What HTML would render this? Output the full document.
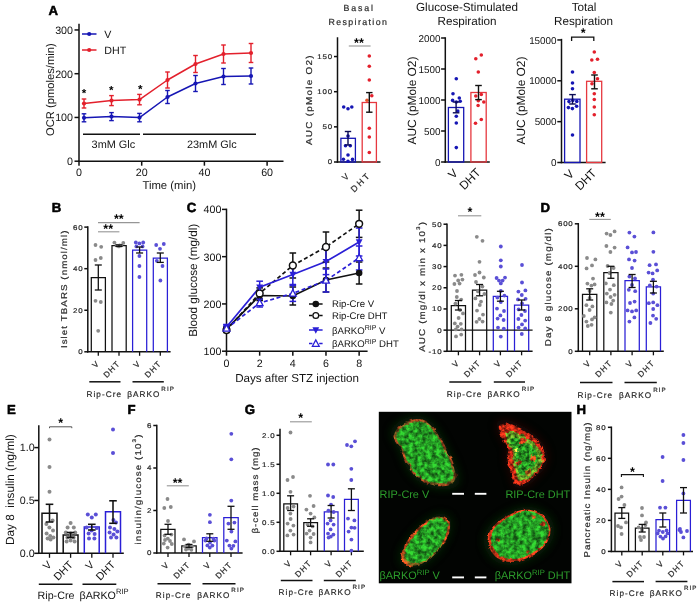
<!DOCTYPE html>
<html lang="en"><head><meta charset="utf-8"><title>Figure</title>
<style>html,body{margin:0;padding:0;background:#fff}body{width:700px;height:604px;overflow:hidden}svg{display:block}</style></head>
<body>
<svg width="700" height="604" viewBox="0 0 700 604" font-family='"Liberation Sans", Arial, sans-serif' text-rendering="geometricPrecision">
<defs><filter id="mot1" x="-15%" y="-15%" width="130%" height="130%" color-interpolation-filters="sRGB"><feTurbulence type="fractalNoise" baseFrequency="0.22" numOctaves="3" seed="3" result="n"/><feColorMatrix in="n" type="matrix" values="2.1 0 0 0 -0.5  2.1 0 0 0 -0.5  2.1 0 0 0 -0.5  0 0 0 0 1" result="g"/><feDisplacementMap in="SourceGraphic" in2="n" scale="3.2" xChannelSelector="G" yChannelSelector="B" result="d"/><feComposite in="d" in2="g" operator="arithmetic" k1="0.85" k2="0.48" k3="0" k4="0" result="m"/><feGaussianBlur in="m" stdDeviation="0.75"/></filter><filter id="mot2" x="-15%" y="-15%" width="130%" height="130%" color-interpolation-filters="sRGB"><feTurbulence type="fractalNoise" baseFrequency="0.27" numOctaves="3" seed="11" result="n"/><feColorMatrix in="n" type="matrix" values="2.1 0 0 0 -0.5  2.1 0 0 0 -0.5  2.1 0 0 0 -0.5  0 0 0 0 1" result="g"/><feDisplacementMap in="SourceGraphic" in2="n" scale="4.2" xChannelSelector="G" yChannelSelector="B" result="d"/><feComposite in="d" in2="g" operator="arithmetic" k1="0.9" k2="0.4" k3="0" k4="0" result="m"/><feGaussianBlur in="m" stdDeviation="0.75"/></filter><filter id="mot3" x="-15%" y="-15%" width="130%" height="130%" color-interpolation-filters="sRGB"><feTurbulence type="fractalNoise" baseFrequency="0.22" numOctaves="3" seed="5" result="n"/><feColorMatrix in="n" type="matrix" values="2.1 0 0 0 -0.5  2.1 0 0 0 -0.5  2.1 0 0 0 -0.5  0 0 0 0 1" result="g"/><feDisplacementMap in="SourceGraphic" in2="n" scale="3" xChannelSelector="G" yChannelSelector="B" result="d"/><feComposite in="d" in2="g" operator="arithmetic" k1="0.85" k2="0.48" k3="0" k4="0" result="m"/><feGaussianBlur in="m" stdDeviation="0.75"/></filter><filter id="mot4" x="-15%" y="-15%" width="130%" height="130%" color-interpolation-filters="sRGB"><feTurbulence type="fractalNoise" baseFrequency="0.22" numOctaves="3" seed="8" result="n"/><feColorMatrix in="n" type="matrix" values="2.1 0 0 0 -0.5  2.1 0 0 0 -0.5  2.1 0 0 0 -0.5  0 0 0 0 1" result="g"/><feDisplacementMap in="SourceGraphic" in2="n" scale="3.2" xChannelSelector="G" yChannelSelector="B" result="d"/><feComposite in="d" in2="g" operator="arithmetic" k1="0.85" k2="0.48" k3="0" k4="0" result="m"/><feGaussianBlur in="m" stdDeviation="0.75"/></filter><filter id="glow" x="-30%" y="-30%" width="160%" height="160%"><feGaussianBlur stdDeviation="4"/></filter><filter id="soft" x="-5%" y="-20%" width="110%" height="140%"><feGaussianBlur stdDeviation="0.3"/></filter></defs>
<rect width="700" height="604" fill="#fff"/>
<text x="48.5" y="15.4" font-size="13.2" fill="#000" font-weight="bold" stroke="#000" stroke-width="0.55" stroke-linejoin="round">A</text>
<line x1="79" y1="23.75" x2="79" y2="161.95" stroke="#111" stroke-width="1.5"/>
<line x1="74.5" y1="161.2" x2="79" y2="161.2" stroke="#111" stroke-width="1.5"/>
<text x="73" y="165.05" font-size="10.7" fill="#141414" text-anchor="end">0</text>
<line x1="74.5" y1="117.45" x2="79" y2="117.45" stroke="#111" stroke-width="1.5"/>
<text x="73" y="121.3" font-size="10.7" fill="#141414" text-anchor="end">100</text>
<line x1="74.5" y1="73.7" x2="79" y2="73.7" stroke="#111" stroke-width="1.5"/>
<text x="73" y="77.55" font-size="10.7" fill="#141414" text-anchor="end">200</text>
<line x1="74.5" y1="29.95" x2="79" y2="29.95" stroke="#111" stroke-width="1.5"/>
<text x="73" y="33.8" font-size="10.7" fill="#141414" text-anchor="end">300</text>
<line x1="78.25" y1="161.2" x2="283.5" y2="161.2" stroke="#111" stroke-width="1.5"/>
<line x1="79" y1="161.2" x2="79" y2="165.7" stroke="#111" stroke-width="1.5"/>
<text x="79" y="175.8" font-size="10.7" fill="#141414" text-anchor="middle">0</text>
<line x1="141.7" y1="161.2" x2="141.7" y2="165.7" stroke="#111" stroke-width="1.5"/>
<text x="141.7" y="175.8" font-size="10.7" fill="#141414" text-anchor="middle">20</text>
<line x1="204.4" y1="161.2" x2="204.4" y2="165.7" stroke="#111" stroke-width="1.5"/>
<text x="204.4" y="175.8" font-size="10.7" fill="#141414" text-anchor="middle">40</text>
<line x1="267.1" y1="161.2" x2="267.1" y2="165.7" stroke="#111" stroke-width="1.5"/>
<text x="267.1" y="175.8" font-size="10.7" fill="#141414" text-anchor="middle">60</text>
<text x="169.2" y="189.2" font-size="11.3" fill="#141414" text-anchor="middle">Time (min)</text>
<text transform="translate(53.8 89.6) rotate(-90)" font-size="11.2" fill="#141414" text-anchor="middle">OCR (pmoles/min)</text>
<polyline points="84,117.8 111.5,116.6 139.5,117.6 167.5,97 195.5,83.5 223.5,76.5 251,76" fill="none" stroke="#1616b4" stroke-width="1.5" stroke-linejoin="round"/>
<line x1="84" y1="113.8" x2="84" y2="121.8" stroke="#1616b4" stroke-width="1.4"/>
<line x1="81.7" y1="113.8" x2="86.3" y2="113.8" stroke="#1616b4" stroke-width="1.4"/>
<line x1="81.7" y1="121.8" x2="86.3" y2="121.8" stroke="#1616b4" stroke-width="1.4"/>
<circle cx="84" cy="117.8" r="2.1" fill="#1616b4"/>
<line x1="111.5" y1="112.6" x2="111.5" y2="120.6" stroke="#1616b4" stroke-width="1.4"/>
<line x1="109.2" y1="112.6" x2="113.8" y2="112.6" stroke="#1616b4" stroke-width="1.4"/>
<line x1="109.2" y1="120.6" x2="113.8" y2="120.6" stroke="#1616b4" stroke-width="1.4"/>
<circle cx="111.5" cy="116.6" r="2.1" fill="#1616b4"/>
<line x1="139.5" y1="113.4" x2="139.5" y2="121.8" stroke="#1616b4" stroke-width="1.4"/>
<line x1="137.2" y1="113.4" x2="141.8" y2="113.4" stroke="#1616b4" stroke-width="1.4"/>
<line x1="137.2" y1="121.8" x2="141.8" y2="121.8" stroke="#1616b4" stroke-width="1.4"/>
<circle cx="139.5" cy="117.6" r="2.1" fill="#1616b4"/>
<line x1="167.5" y1="90.5" x2="167.5" y2="103.5" stroke="#1616b4" stroke-width="1.4"/>
<line x1="165.2" y1="90.5" x2="169.8" y2="90.5" stroke="#1616b4" stroke-width="1.4"/>
<line x1="165.2" y1="103.5" x2="169.8" y2="103.5" stroke="#1616b4" stroke-width="1.4"/>
<circle cx="167.5" cy="97" r="2.1" fill="#1616b4"/>
<line x1="195.5" y1="75.5" x2="195.5" y2="91.5" stroke="#1616b4" stroke-width="1.4"/>
<line x1="193.2" y1="75.5" x2="197.8" y2="75.5" stroke="#1616b4" stroke-width="1.4"/>
<line x1="193.2" y1="91.5" x2="197.8" y2="91.5" stroke="#1616b4" stroke-width="1.4"/>
<circle cx="195.5" cy="83.5" r="2.1" fill="#1616b4"/>
<line x1="223.5" y1="68.5" x2="223.5" y2="84.5" stroke="#1616b4" stroke-width="1.4"/>
<line x1="221.2" y1="68.5" x2="225.8" y2="68.5" stroke="#1616b4" stroke-width="1.4"/>
<line x1="221.2" y1="84.5" x2="225.8" y2="84.5" stroke="#1616b4" stroke-width="1.4"/>
<circle cx="223.5" cy="76.5" r="2.1" fill="#1616b4"/>
<line x1="251" y1="68" x2="251" y2="84" stroke="#1616b4" stroke-width="1.4"/>
<line x1="248.7" y1="68" x2="253.3" y2="68" stroke="#1616b4" stroke-width="1.4"/>
<line x1="248.7" y1="84" x2="253.3" y2="84" stroke="#1616b4" stroke-width="1.4"/>
<circle cx="251" cy="76" r="2.1" fill="#1616b4"/>
<polyline points="84,103.5 111.5,100.6 139.5,99.6 167.5,80 195.5,64 223.5,54 251,53" fill="none" stroke="#e3202c" stroke-width="1.5" stroke-linejoin="round"/>
<line x1="84" y1="99" x2="84" y2="108" stroke="#e3202c" stroke-width="1.4"/>
<line x1="81.7" y1="99" x2="86.3" y2="99" stroke="#e3202c" stroke-width="1.4"/>
<line x1="81.7" y1="108" x2="86.3" y2="108" stroke="#e3202c" stroke-width="1.4"/>
<circle cx="84" cy="103.5" r="2.1" fill="#e3202c"/>
<line x1="111.5" y1="95.6" x2="111.5" y2="105.6" stroke="#e3202c" stroke-width="1.4"/>
<line x1="109.2" y1="95.6" x2="113.8" y2="95.6" stroke="#e3202c" stroke-width="1.4"/>
<line x1="109.2" y1="105.6" x2="113.8" y2="105.6" stroke="#e3202c" stroke-width="1.4"/>
<circle cx="111.5" cy="100.6" r="2.1" fill="#e3202c"/>
<line x1="139.5" y1="94.4" x2="139.5" y2="104.8" stroke="#e3202c" stroke-width="1.4"/>
<line x1="137.2" y1="94.4" x2="141.8" y2="94.4" stroke="#e3202c" stroke-width="1.4"/>
<line x1="137.2" y1="104.8" x2="141.8" y2="104.8" stroke="#e3202c" stroke-width="1.4"/>
<circle cx="139.5" cy="99.6" r="2.1" fill="#e3202c"/>
<line x1="167.5" y1="72" x2="167.5" y2="88" stroke="#e3202c" stroke-width="1.4"/>
<line x1="165.2" y1="72" x2="169.8" y2="72" stroke="#e3202c" stroke-width="1.4"/>
<line x1="165.2" y1="88" x2="169.8" y2="88" stroke="#e3202c" stroke-width="1.4"/>
<circle cx="167.5" cy="80" r="2.1" fill="#e3202c"/>
<line x1="195.5" y1="55.5" x2="195.5" y2="72.5" stroke="#e3202c" stroke-width="1.4"/>
<line x1="193.2" y1="55.5" x2="197.8" y2="55.5" stroke="#e3202c" stroke-width="1.4"/>
<line x1="193.2" y1="72.5" x2="197.8" y2="72.5" stroke="#e3202c" stroke-width="1.4"/>
<circle cx="195.5" cy="64" r="2.1" fill="#e3202c"/>
<line x1="223.5" y1="45" x2="223.5" y2="63" stroke="#e3202c" stroke-width="1.4"/>
<line x1="221.2" y1="45" x2="225.8" y2="45" stroke="#e3202c" stroke-width="1.4"/>
<line x1="221.2" y1="63" x2="225.8" y2="63" stroke="#e3202c" stroke-width="1.4"/>
<circle cx="223.5" cy="54" r="2.1" fill="#e3202c"/>
<line x1="251" y1="43.5" x2="251" y2="62.5" stroke="#e3202c" stroke-width="1.4"/>
<line x1="248.7" y1="43.5" x2="253.3" y2="43.5" stroke="#e3202c" stroke-width="1.4"/>
<line x1="248.7" y1="62.5" x2="253.3" y2="62.5" stroke="#e3202c" stroke-width="1.4"/>
<circle cx="251" cy="53" r="2.1" fill="#e3202c"/>
<line x1="82" y1="34" x2="96.5" y2="34" stroke="#1616b4" stroke-width="1.5"/>
<circle cx="89.2" cy="34" r="2.1" fill="#1616b4"/>
<text x="104.3" y="37.9" font-size="10.7" fill="#141414">V</text>
<line x1="82" y1="50" x2="96.5" y2="50" stroke="#e3202c" stroke-width="1.5"/>
<circle cx="89.2" cy="50" r="2.1" fill="#e3202c"/>
<text x="104.3" y="53.9" font-size="10.7" fill="#141414">DHT</text>
<text x="84" y="96.53" font-size="11.6" fill="#000" text-anchor="middle" font-weight="bold">*</text>
<text x="111.3" y="93.93" font-size="11.6" fill="#000" text-anchor="middle" font-weight="bold">*</text>
<text x="140.3" y="92.93" font-size="11.6" fill="#000" text-anchor="middle" font-weight="bold">*</text>
<line x1="83" y1="134.2" x2="140" y2="134.2" stroke="#111" stroke-width="1.5"/>
<line x1="143" y1="134.2" x2="256" y2="134.2" stroke="#111" stroke-width="1.5"/>
<text x="113.4" y="147.6" font-size="10.9" fill="#141414" text-anchor="middle">3mM Glc</text>
<text x="211.8" y="147.6" font-size="10.9" fill="#141414" text-anchor="middle">23mM Glc</text>
<line x1="337.5" y1="37.25" x2="337.5" y2="162.75" stroke="#111" stroke-width="1.5"/>
<line x1="334" y1="162" x2="337.5" y2="162" stroke="#111" stroke-width="1.5"/>
<text transform="translate(333 164.48) scale(1.15 1)" font-size="6.9" fill="#2a2a2a" text-anchor="end" letter-spacing="0.7" stroke="#2a2a2a" stroke-width="0.2">0</text>
<line x1="334" y1="126.85" x2="337.5" y2="126.85" stroke="#111" stroke-width="1.5"/>
<text transform="translate(333 129.33) scale(1.15 1)" font-size="6.9" fill="#2a2a2a" text-anchor="end" letter-spacing="0.7" stroke="#2a2a2a" stroke-width="0.2">50</text>
<line x1="334" y1="91.7" x2="337.5" y2="91.7" stroke="#111" stroke-width="1.5"/>
<text transform="translate(333 94.18) scale(1.15 1)" font-size="6.9" fill="#2a2a2a" text-anchor="end" letter-spacing="0.7" stroke="#2a2a2a" stroke-width="0.2">100</text>
<line x1="334" y1="56.55" x2="337.5" y2="56.55" stroke="#111" stroke-width="1.5"/>
<text transform="translate(333 59.03) scale(1.15 1)" font-size="6.9" fill="#2a2a2a" text-anchor="end" letter-spacing="0.7" stroke="#2a2a2a" stroke-width="0.2">150</text>
<line x1="336.75" y1="162" x2="380.5" y2="162" stroke="#111" stroke-width="1.5"/>
<text transform="translate(359.12 10.9)" font-size="8.8" fill="#2a2a2a" text-anchor="middle" letter-spacing="1.84" stroke="#2a2a2a" stroke-width="0.2">Basal</text>
<text transform="translate(358.39 24.9)" font-size="8.8" fill="#2a2a2a" text-anchor="middle" letter-spacing="1.37" stroke="#2a2a2a" stroke-width="0.2">Respiration</text>
<text transform="translate(312.1 99.56) rotate(-90) scale(1.15 1)" font-size="8.6" fill="#2a2a2a" text-anchor="middle" letter-spacing="1.11" stroke="#2a2a2a" stroke-width="0.2">AUC (pMole O2)</text>
<rect x="340.9" y="138.3" width="14.5" height="23.7" fill="none" stroke="#1616b4" stroke-width="1.3"/>
<rect x="362.2" y="102.5" width="14.2" height="59.5" fill="none" stroke="#e6383f" stroke-width="1.3"/>
<circle cx="343.7" cy="107" r="1.8" fill="#1616b4"/>
<circle cx="348" cy="108.8" r="1.8" fill="#1616b4"/>
<circle cx="351.8" cy="107" r="1.8" fill="#1616b4"/>
<circle cx="345.5" cy="145.8" r="1.8" fill="#1616b4"/>
<circle cx="350.3" cy="145.8" r="1.8" fill="#1616b4"/>
<circle cx="348" cy="155" r="1.8" fill="#1616b4"/>
<circle cx="343.4" cy="159.3" r="1.8" fill="#1616b4"/>
<circle cx="348" cy="161.3" r="1.8" fill="#1616b4"/>
<circle cx="352.5" cy="159.4" r="1.8" fill="#1616b4"/>
<circle cx="348" cy="136" r="1.8" fill="#1616b4"/>
<circle cx="369.3" cy="56" r="1.8" fill="#e3202c"/>
<circle cx="369.3" cy="66.2" r="1.8" fill="#e3202c"/>
<circle cx="369.3" cy="80" r="1.8" fill="#e3202c"/>
<circle cx="371.8" cy="95.8" r="1.8" fill="#e3202c"/>
<circle cx="369.3" cy="128.2" r="1.8" fill="#e3202c"/>
<circle cx="369.3" cy="137" r="1.8" fill="#e3202c"/>
<circle cx="369.3" cy="152.5" r="1.8" fill="#e3202c"/>
<circle cx="367" cy="100.2" r="1.8" fill="#e8552c"/>
<line x1="348" y1="131.5" x2="348" y2="145" stroke="#0b0b55" stroke-width="1.4"/>
<line x1="344.8" y1="131.5" x2="351.2" y2="131.5" stroke="#0b0b55" stroke-width="1.4"/>
<line x1="344.8" y1="145" x2="351.2" y2="145" stroke="#0b0b55" stroke-width="1.4"/>
<line x1="369.3" y1="92.6" x2="369.3" y2="112.2" stroke="#111" stroke-width="1.4"/>
<line x1="366.1" y1="92.6" x2="372.5" y2="92.6" stroke="#111" stroke-width="1.4"/>
<line x1="366.1" y1="112.2" x2="372.5" y2="112.2" stroke="#111" stroke-width="1.4"/>
<text x="358.9" y="46.83" font-size="12.6" fill="#000" text-anchor="middle" font-weight="bold">**</text>
<line x1="348.8" y1="46" x2="370.6" y2="46" stroke="#969696" stroke-width="1.1"/>
<text transform="translate(350.6 176) rotate(-45)" font-size="8.6" fill="#2a2a2a" text-anchor="end" letter-spacing="1.4" stroke="#2a2a2a" stroke-width="0.2">V</text>
<text transform="translate(371.6 175.4) rotate(-45)" font-size="8.6" fill="#2a2a2a" text-anchor="end" letter-spacing="2.3" stroke="#2a2a2a" stroke-width="0.2">DHT</text>
<line x1="445.3" y1="37.25" x2="445.3" y2="162.75" stroke="#111" stroke-width="1.5"/>
<line x1="441.1" y1="162" x2="445.3" y2="162" stroke="#111" stroke-width="1.5"/>
<text x="440.4" y="165.56" font-size="9.9" fill="#141414" text-anchor="end">0</text>
<line x1="441.1" y1="131" x2="445.3" y2="131" stroke="#111" stroke-width="1.5"/>
<text x="440.4" y="134.56" font-size="9.9" fill="#141414" text-anchor="end">500</text>
<line x1="441.1" y1="100" x2="445.3" y2="100" stroke="#111" stroke-width="1.5"/>
<text x="440.4" y="103.56" font-size="9.9" fill="#141414" text-anchor="end">1000</text>
<line x1="441.1" y1="69" x2="445.3" y2="69" stroke="#111" stroke-width="1.5"/>
<text x="440.4" y="72.56" font-size="9.9" fill="#141414" text-anchor="end">1500</text>
<line x1="441.1" y1="38" x2="445.3" y2="38" stroke="#111" stroke-width="1.5"/>
<text x="440.4" y="41.56" font-size="9.9" fill="#141414" text-anchor="end">2000</text>
<line x1="444.55" y1="162" x2="489.8" y2="162" stroke="#111" stroke-width="1.5"/>
<text x="467" y="11" font-size="11.7" fill="#141414" text-anchor="middle">Glucose-Stimulated</text>
<text x="467" y="24.6" font-size="11.7" fill="#141414" text-anchor="middle">Respiration</text>
<text transform="translate(415.5 100.5) rotate(-90)" font-size="11.9" fill="#141414" text-anchor="middle">AUC (pMole O2)</text>
<rect x="448.4" y="107.5" width="15.3" height="54.5" fill="none" stroke="#1616b4" stroke-width="1.3"/>
<rect x="470.9" y="92.5" width="15.3" height="69.5" fill="none" stroke="#e6383f" stroke-width="1.3"/>
<circle cx="456.3" cy="78.8" r="1.8" fill="#1616b4"/>
<circle cx="453" cy="93.8" r="1.8" fill="#1616b4"/>
<circle cx="459.3" cy="98" r="1.8" fill="#1616b4"/>
<circle cx="452.6" cy="100.4" r="1.8" fill="#1616b4"/>
<circle cx="456.3" cy="102" r="1.8" fill="#1616b4"/>
<circle cx="457.8" cy="111" r="1.8" fill="#1616b4"/>
<circle cx="456.3" cy="116.3" r="1.8" fill="#1616b4"/>
<circle cx="456.3" cy="123" r="1.8" fill="#1616b4"/>
<circle cx="456.3" cy="147.6" r="1.8" fill="#1616b4"/>
<circle cx="460.2" cy="101.2" r="1.8" fill="#1616b4"/>
<circle cx="475.8" cy="58.8" r="1.8" fill="#e3202c"/>
<circle cx="481.3" cy="55" r="1.8" fill="#e3202c"/>
<circle cx="478.3" cy="72" r="1.8" fill="#e3202c"/>
<circle cx="481.3" cy="94.5" r="1.8" fill="#e3202c"/>
<circle cx="475.8" cy="96" r="1.8" fill="#e3202c"/>
<circle cx="478.1" cy="105.5" r="1.8" fill="#e3202c"/>
<circle cx="483.8" cy="102" r="1.8" fill="#e3202c"/>
<circle cx="475.5" cy="123.2" r="1.8" fill="#e3202c"/>
<circle cx="481.3" cy="119.5" r="1.8" fill="#e3202c"/>
<circle cx="478.3" cy="100.8" r="1.8" fill="#e3202c"/>
<line x1="456.1" y1="102" x2="456.1" y2="112.8" stroke="#0b0b55" stroke-width="1.4"/>
<line x1="452.8" y1="102" x2="459.4" y2="102" stroke="#0b0b55" stroke-width="1.4"/>
<line x1="452.8" y1="112.8" x2="459.4" y2="112.8" stroke="#0b0b55" stroke-width="1.4"/>
<line x1="478.5" y1="85.5" x2="478.5" y2="99.6" stroke="#111" stroke-width="1.4"/>
<line x1="475.2" y1="85.5" x2="481.8" y2="85.5" stroke="#111" stroke-width="1.4"/>
<line x1="475.2" y1="99.6" x2="481.8" y2="99.6" stroke="#111" stroke-width="1.4"/>
<text transform="translate(458.6 174) rotate(-45)" font-size="11.9" fill="#141414" text-anchor="end">V</text>
<text transform="translate(481.5 173.2) rotate(-45)" font-size="11.9" fill="#141414" text-anchor="end">DHT</text>
<line x1="561.5" y1="38.85" x2="561.5" y2="163.25" stroke="#111" stroke-width="1.5"/>
<line x1="557.3" y1="162.5" x2="561.5" y2="162.5" stroke="#111" stroke-width="1.5"/>
<text x="556.6" y="166.06" font-size="9.9" fill="#141414" text-anchor="end">0</text>
<line x1="557.3" y1="121.65" x2="561.5" y2="121.65" stroke="#111" stroke-width="1.5"/>
<text x="556.6" y="125.21" font-size="9.9" fill="#141414" text-anchor="end">5000</text>
<line x1="557.3" y1="80.8" x2="561.5" y2="80.8" stroke="#111" stroke-width="1.5"/>
<text x="556.6" y="84.36" font-size="9.9" fill="#141414" text-anchor="end">10000</text>
<line x1="557.3" y1="39.95" x2="561.5" y2="39.95" stroke="#111" stroke-width="1.5"/>
<text x="556.6" y="43.51" font-size="9.9" fill="#141414" text-anchor="end">15000</text>
<line x1="560.75" y1="162.5" x2="605.6" y2="162.5" stroke="#111" stroke-width="1.5"/>
<text x="584" y="11" font-size="11.7" fill="#141414" text-anchor="middle">Total</text>
<text x="583.5" y="24.6" font-size="11.7" fill="#141414" text-anchor="middle">Respiration</text>
<text transform="translate(524.8 100.5) rotate(-90)" font-size="11.9" fill="#141414" text-anchor="middle">AUC (pMole O2)</text>
<rect x="564.6" y="99.2" width="15.4" height="63.3" fill="none" stroke="#1616b4" stroke-width="1.3"/>
<rect x="586.6" y="81.3" width="15.1" height="81.2" fill="none" stroke="#e6383f" stroke-width="1.3"/>
<circle cx="572.5" cy="72" r="1.8" fill="#1616b4"/>
<circle cx="572.5" cy="83" r="1.8" fill="#1616b4"/>
<circle cx="572.5" cy="88.8" r="1.8" fill="#1616b4"/>
<circle cx="569" cy="101.6" r="1.8" fill="#1616b4"/>
<circle cx="572.8" cy="100.4" r="1.8" fill="#1616b4"/>
<circle cx="576.8" cy="101.4" r="1.8" fill="#1616b4"/>
<circle cx="568.4" cy="107.6" r="1.8" fill="#1616b4"/>
<circle cx="572.4" cy="108.6" r="1.8" fill="#1616b4"/>
<circle cx="576.6" cy="106.2" r="1.8" fill="#1616b4"/>
<circle cx="572.5" cy="135" r="1.8" fill="#1616b4"/>
<circle cx="594.3" cy="52" r="1.8" fill="#e3202c"/>
<circle cx="591.8" cy="60" r="1.8" fill="#e3202c"/>
<circle cx="597.5" cy="59.3" r="1.8" fill="#e3202c"/>
<circle cx="594.3" cy="72.5" r="1.8" fill="#e3202c"/>
<circle cx="597.5" cy="78.8" r="1.8" fill="#e3202c"/>
<circle cx="592" cy="83.8" r="1.8" fill="#e3202c"/>
<circle cx="594.3" cy="93.8" r="1.8" fill="#e3202c"/>
<circle cx="594.3" cy="99.5" r="1.8" fill="#e3202c"/>
<circle cx="594.3" cy="107" r="1.8" fill="#e3202c"/>
<circle cx="594.3" cy="114.8" r="1.8" fill="#e3202c"/>
<line x1="572.5" y1="94.6" x2="572.5" y2="104" stroke="#0b0b55" stroke-width="1.4"/>
<line x1="569.2" y1="94.6" x2="575.8" y2="94.6" stroke="#0b0b55" stroke-width="1.4"/>
<line x1="569.2" y1="104" x2="575.8" y2="104" stroke="#0b0b55" stroke-width="1.4"/>
<line x1="594.5" y1="75" x2="594.5" y2="88.8" stroke="#111" stroke-width="1.4"/>
<line x1="591.2" y1="75" x2="597.8" y2="75" stroke="#111" stroke-width="1.4"/>
<line x1="591.2" y1="88.8" x2="597.8" y2="88.8" stroke="#111" stroke-width="1.4"/>
<text x="583.2" y="37.33" font-size="12.6" fill="#000" text-anchor="middle" font-weight="bold">*</text>
<polyline points="571.6,41 571.6,37.2 593.8,37.2 593.8,41" fill="none" stroke="#111" stroke-width="1.3"/>
<text transform="translate(574.8 174.6) rotate(-45)" font-size="11.9" fill="#141414" text-anchor="end">V</text>
<text transform="translate(597.2 173.8) rotate(-45)" font-size="11.9" fill="#141414" text-anchor="end">DHT</text>
<text x="51.8" y="212.3" font-size="13.2" fill="#000" font-weight="bold" stroke="#000" stroke-width="0.55" stroke-linejoin="round">B</text>
<line x1="87.8" y1="226.35" x2="87.8" y2="352.55" stroke="#111" stroke-width="1.5"/>
<line x1="84.3" y1="351.8" x2="87.8" y2="351.8" stroke="#111" stroke-width="1.5"/>
<text transform="translate(83.41 354.28) scale(1.15 1)" font-size="6.9" fill="#2a2a2a" text-anchor="end" letter-spacing="0.7" stroke="#2a2a2a" stroke-width="0.2">0</text>
<line x1="84.3" y1="310.24" x2="87.8" y2="310.24" stroke="#111" stroke-width="1.5"/>
<text transform="translate(83.41 312.72) scale(1.15 1)" font-size="6.9" fill="#2a2a2a" text-anchor="end" letter-spacing="0.7" stroke="#2a2a2a" stroke-width="0.2">20</text>
<line x1="84.3" y1="268.68" x2="87.8" y2="268.68" stroke="#111" stroke-width="1.5"/>
<text transform="translate(83.41 271.16) scale(1.15 1)" font-size="6.9" fill="#2a2a2a" text-anchor="end" letter-spacing="0.7" stroke="#2a2a2a" stroke-width="0.2">40</text>
<line x1="84.3" y1="227.12" x2="87.8" y2="227.12" stroke="#111" stroke-width="1.5"/>
<text transform="translate(83.41 229.6) scale(1.15 1)" font-size="6.9" fill="#2a2a2a" text-anchor="end" letter-spacing="0.7" stroke="#2a2a2a" stroke-width="0.2">60</text>
<line x1="87.05" y1="351.8" x2="170.6" y2="351.8" stroke="#111" stroke-width="1.5"/>
<line x1="98.3" y1="351.8" x2="98.3" y2="355.8" stroke="#111" stroke-width="1.3"/>
<line x1="119" y1="351.8" x2="119" y2="355.8" stroke="#111" stroke-width="1.3"/>
<line x1="139.6" y1="351.8" x2="139.6" y2="355.8" stroke="#111" stroke-width="1.3"/>
<line x1="160.3" y1="351.8" x2="160.3" y2="355.8" stroke="#111" stroke-width="1.3"/>
<path d="M91.3,351.8 V277.5 H105.4 V351.8" fill="none" stroke="#111" stroke-width="1.25"/>
<path d="M112,351.8 V245.6 H126.2 V351.8" fill="none" stroke="#111" stroke-width="1.25"/>
<path d="M132.6,351.8 V250 H146.7 V351.8" fill="none" stroke="#2a1fd6" stroke-width="1.25"/>
<path d="M153.3,351.8 V258 H167.4 V351.8" fill="none" stroke="#2a1fd6" stroke-width="1.25"/>
<text transform="translate(67.2 288.77) rotate(-90) scale(1.15 1)" font-size="8.5" fill="#2a2a2a" text-anchor="middle" letter-spacing="0.92" stroke="#2a2a2a" stroke-width="0.2">Islet TBARS (nmol/ml)</text>
<circle cx="95.5" cy="245" r="1.9" fill="#8a8a8a"/>
<circle cx="101.2" cy="246.8" r="1.9" fill="#8a8a8a"/>
<circle cx="95.5" cy="260" r="1.9" fill="#8a8a8a"/>
<circle cx="100.8" cy="258" r="1.9" fill="#8a8a8a"/>
<circle cx="95.5" cy="300.8" r="1.9" fill="#8a8a8a"/>
<circle cx="100.8" cy="302" r="1.9" fill="#8a8a8a"/>
<circle cx="98.2" cy="330.8" r="1.9" fill="#8a8a8a"/>
<circle cx="114.4" cy="242.6" r="1.9" fill="#8a8a8a"/>
<circle cx="116.7" cy="245.6" r="1.9" fill="#8a8a8a"/>
<circle cx="118.8" cy="246.4" r="1.9" fill="#8a8a8a"/>
<circle cx="121.2" cy="245.6" r="1.9" fill="#8a8a8a"/>
<circle cx="123.3" cy="242.9" r="1.9" fill="#8a8a8a"/>
<circle cx="119.6" cy="245.4" r="1.9" fill="#8a8a8a"/>
<circle cx="135.8" cy="242.5" r="1.9" fill="#5a4fd6"/>
<circle cx="139.4" cy="243.4" r="1.9" fill="#5a4fd6"/>
<circle cx="143.2" cy="242.5" r="1.9" fill="#5a4fd6"/>
<circle cx="136.4" cy="246.4" r="1.9" fill="#5a4fd6"/>
<circle cx="142.6" cy="246.4" r="1.9" fill="#5a4fd6"/>
<circle cx="139.4" cy="256" r="1.9" fill="#5a4fd6"/>
<circle cx="139.4" cy="266" r="1.9" fill="#5a4fd6"/>
<circle cx="139.4" cy="277" r="1.9" fill="#5a4fd6"/>
<circle cx="156.2" cy="245" r="1.9" fill="#5a4fd6"/>
<circle cx="163.8" cy="244" r="1.9" fill="#5a4fd6"/>
<circle cx="160" cy="248.8" r="1.9" fill="#5a4fd6"/>
<circle cx="156.8" cy="260.8" r="1.9" fill="#5a4fd6"/>
<circle cx="162.5" cy="266" r="1.9" fill="#5a4fd6"/>
<circle cx="160.4" cy="280.5" r="1.9" fill="#5a4fd6"/>
<line x1="98.3" y1="265" x2="98.3" y2="290" stroke="#111" stroke-width="1.3"/>
<line x1="94.8" y1="265" x2="101.8" y2="265" stroke="#111" stroke-width="1.3"/>
<line x1="94.8" y1="290" x2="101.8" y2="290" stroke="#111" stroke-width="1.3"/>
<line x1="119" y1="244.9" x2="119" y2="246.4" stroke="#111" stroke-width="1.2"/>
<line x1="115.5" y1="244.9" x2="122.5" y2="244.9" stroke="#111" stroke-width="1.2"/>
<line x1="115.5" y1="246.4" x2="122.5" y2="246.4" stroke="#111" stroke-width="1.2"/>
<line x1="139.6" y1="247" x2="139.6" y2="253" stroke="#111" stroke-width="1.3"/>
<line x1="136.1" y1="247" x2="143.1" y2="247" stroke="#111" stroke-width="1.3"/>
<line x1="136.1" y1="253" x2="143.1" y2="253" stroke="#111" stroke-width="1.3"/>
<line x1="160.3" y1="253" x2="160.3" y2="262.4" stroke="#111" stroke-width="1.3"/>
<line x1="156.8" y1="253" x2="163.8" y2="253" stroke="#111" stroke-width="1.3"/>
<line x1="156.8" y1="262.4" x2="163.8" y2="262.4" stroke="#111" stroke-width="1.3"/>
<text x="118.8" y="223.33" font-size="12.6" fill="#000" text-anchor="middle" font-weight="bold">**</text>
<line x1="98" y1="222.6" x2="139.6" y2="222.6" stroke="#969696" stroke-width="1.1"/>
<text x="108.2" y="232.53" font-size="12.6" fill="#000" text-anchor="middle" font-weight="bold">**</text>
<line x1="98" y1="231.8" x2="119.4" y2="231.8" stroke="#969696" stroke-width="1.1"/>
<text transform="translate(100.1 364) rotate(-45)" font-size="8.2" fill="#2a2a2a" text-anchor="end" letter-spacing="1.05" stroke="#2a2a2a" stroke-width="0.2">V</text>
<text transform="translate(120.8 364) rotate(-45)" font-size="8.2" fill="#2a2a2a" text-anchor="end" letter-spacing="1.05" stroke="#2a2a2a" stroke-width="0.2">DHT</text>
<text transform="translate(141.4 364) rotate(-45)" font-size="8.2" fill="#2a2a2a" text-anchor="end" letter-spacing="1.05" stroke="#2a2a2a" stroke-width="0.2">V</text>
<text transform="translate(162.1 364) rotate(-45)" font-size="8.2" fill="#2a2a2a" text-anchor="end" letter-spacing="1.05" stroke="#2a2a2a" stroke-width="0.2">DHT</text>
<line x1="89.3" y1="381.8" x2="120.5" y2="381.8" stroke="#111" stroke-width="1.5"/>
<line x1="132.5" y1="381.8" x2="163.8" y2="381.8" stroke="#111" stroke-width="1.5"/>
<text x="104.3" y="397.2" font-size="8.2" fill="#2a2a2a" text-anchor="middle" letter-spacing="1.05" stroke="#2a2a2a" stroke-width="0.2">Rip-Cre</text>
<text x="127.2" y="397.2" font-size="8.2" fill="#2a2a2a" letter-spacing="1.05" stroke="#2a2a2a" stroke-width="0.2">βARKO<tspan font-size="6.23" dx="1" dy="-6.07">RIP</tspan></text>
<text x="186.8" y="212" font-size="13.2" fill="#000" font-weight="bold" stroke="#000" stroke-width="0.55" stroke-linejoin="round">C</text>
<line x1="226.5" y1="208.65" x2="226.5" y2="351.95" stroke="#111" stroke-width="1.5"/>
<line x1="222" y1="351.2" x2="226.5" y2="351.2" stroke="#111" stroke-width="1.5"/>
<text x="221.4" y="355.05" font-size="10.7" fill="#141414" text-anchor="end">100</text>
<line x1="222" y1="303.93" x2="226.5" y2="303.93" stroke="#111" stroke-width="1.5"/>
<text x="221.4" y="307.78" font-size="10.7" fill="#141414" text-anchor="end">200</text>
<line x1="222" y1="256.66" x2="226.5" y2="256.66" stroke="#111" stroke-width="1.5"/>
<text x="221.4" y="260.51" font-size="10.7" fill="#141414" text-anchor="end">300</text>
<line x1="222" y1="209.39" x2="226.5" y2="209.39" stroke="#111" stroke-width="1.5"/>
<text x="221.4" y="213.24" font-size="10.7" fill="#141414" text-anchor="end">400</text>
<line x1="225.75" y1="351.2" x2="367.6" y2="351.2" stroke="#111" stroke-width="1.5"/>
<line x1="226.5" y1="351.2" x2="226.5" y2="355.7" stroke="#111" stroke-width="1.5"/>
<text x="226.5" y="366.8" font-size="10.7" fill="#141414" text-anchor="middle">0</text>
<line x1="259.66" y1="351.2" x2="259.66" y2="355.7" stroke="#111" stroke-width="1.5"/>
<text x="259.66" y="366.8" font-size="10.7" fill="#141414" text-anchor="middle">2</text>
<line x1="292.82" y1="351.2" x2="292.82" y2="355.7" stroke="#111" stroke-width="1.5"/>
<text x="292.82" y="366.8" font-size="10.7" fill="#141414" text-anchor="middle">4</text>
<line x1="325.98" y1="351.2" x2="325.98" y2="355.7" stroke="#111" stroke-width="1.5"/>
<text x="325.98" y="366.8" font-size="10.7" fill="#141414" text-anchor="middle">6</text>
<line x1="359.14" y1="351.2" x2="359.14" y2="355.7" stroke="#111" stroke-width="1.5"/>
<text x="359.14" y="366.8" font-size="10.7" fill="#141414" text-anchor="middle">8</text>
<text x="297" y="382.4" font-size="11.6" fill="#141414" text-anchor="middle">Days after STZ injection</text>
<text transform="translate(197.4 280.3) rotate(-90)" font-size="11.7" fill="#141414" text-anchor="middle">Blood glucose (mg/dl)</text>
<polyline points="226.5,329.2 259.66,295.5 292.82,296 325.98,280 359.14,273" fill="none" stroke="#111" stroke-width="1.7"/>
<polyline points="226.5,330 259.66,293.4 292.82,265.5 325.98,247 359.14,223.8" fill="none" stroke="#111" stroke-width="1.7" stroke-dasharray="4 2.6"/>
<polyline points="226.5,327 259.66,287.2 292.82,274.5 325.98,261.6 359.14,242" fill="none" stroke="#2a1fd6" stroke-width="1.7"/>
<polyline points="226.5,328.5 259.66,303 292.82,293.4 325.98,280.5 359.14,258" fill="none" stroke="#2a1fd6" stroke-width="1.7" stroke-dasharray="4 2.6"/>
<line x1="226.5" y1="326.7" x2="226.5" y2="331.7" stroke="#111" stroke-width="1.5"/>
<line x1="223.2" y1="326.7" x2="229.8" y2="326.7" stroke="#111" stroke-width="1.5"/>
<line x1="223.2" y1="331.7" x2="229.8" y2="331.7" stroke="#111" stroke-width="1.5"/>
<line x1="259.66" y1="290.5" x2="259.66" y2="300.5" stroke="#111" stroke-width="1.5"/>
<line x1="256.36" y1="290.5" x2="262.96" y2="290.5" stroke="#111" stroke-width="1.5"/>
<line x1="256.36" y1="300.5" x2="262.96" y2="300.5" stroke="#111" stroke-width="1.5"/>
<line x1="292.82" y1="287" x2="292.82" y2="305" stroke="#111" stroke-width="1.5"/>
<line x1="289.52" y1="287" x2="296.12" y2="287" stroke="#111" stroke-width="1.5"/>
<line x1="289.52" y1="305" x2="296.12" y2="305" stroke="#111" stroke-width="1.5"/>
<line x1="325.98" y1="268" x2="325.98" y2="292" stroke="#111" stroke-width="1.5"/>
<line x1="322.68" y1="268" x2="329.28" y2="268" stroke="#111" stroke-width="1.5"/>
<line x1="322.68" y1="292" x2="329.28" y2="292" stroke="#111" stroke-width="1.5"/>
<line x1="359.14" y1="262" x2="359.14" y2="284" stroke="#111" stroke-width="1.5"/>
<line x1="355.84" y1="262" x2="362.44" y2="262" stroke="#111" stroke-width="1.5"/>
<line x1="355.84" y1="284" x2="362.44" y2="284" stroke="#111" stroke-width="1.5"/>
<line x1="226.5" y1="327.5" x2="226.5" y2="332.5" stroke="#111" stroke-width="1.5"/>
<line x1="223.2" y1="327.5" x2="229.8" y2="327.5" stroke="#111" stroke-width="1.5"/>
<line x1="223.2" y1="332.5" x2="229.8" y2="332.5" stroke="#111" stroke-width="1.5"/>
<line x1="259.66" y1="287.9" x2="259.66" y2="298.9" stroke="#111" stroke-width="1.5"/>
<line x1="256.36" y1="287.9" x2="262.96" y2="287.9" stroke="#111" stroke-width="1.5"/>
<line x1="256.36" y1="298.9" x2="262.96" y2="298.9" stroke="#111" stroke-width="1.5"/>
<line x1="292.82" y1="253" x2="292.82" y2="278" stroke="#111" stroke-width="1.5"/>
<line x1="289.52" y1="253" x2="296.12" y2="253" stroke="#111" stroke-width="1.5"/>
<line x1="289.52" y1="278" x2="296.12" y2="278" stroke="#111" stroke-width="1.5"/>
<line x1="325.98" y1="232" x2="325.98" y2="262" stroke="#111" stroke-width="1.5"/>
<line x1="322.68" y1="232" x2="329.28" y2="232" stroke="#111" stroke-width="1.5"/>
<line x1="322.68" y1="262" x2="329.28" y2="262" stroke="#111" stroke-width="1.5"/>
<line x1="359.14" y1="210.2" x2="359.14" y2="237.4" stroke="#111" stroke-width="1.5"/>
<line x1="355.84" y1="210.2" x2="362.44" y2="210.2" stroke="#111" stroke-width="1.5"/>
<line x1="355.84" y1="237.4" x2="362.44" y2="237.4" stroke="#111" stroke-width="1.5"/>
<line x1="226.5" y1="324.5" x2="226.5" y2="329.5" stroke="#2a1fd6" stroke-width="1.5"/>
<line x1="223.2" y1="324.5" x2="229.8" y2="324.5" stroke="#2a1fd6" stroke-width="1.5"/>
<line x1="223.2" y1="329.5" x2="229.8" y2="329.5" stroke="#2a1fd6" stroke-width="1.5"/>
<line x1="259.66" y1="281.2" x2="259.66" y2="293.2" stroke="#2a1fd6" stroke-width="1.5"/>
<line x1="256.36" y1="281.2" x2="262.96" y2="281.2" stroke="#2a1fd6" stroke-width="1.5"/>
<line x1="256.36" y1="293.2" x2="262.96" y2="293.2" stroke="#2a1fd6" stroke-width="1.5"/>
<line x1="292.82" y1="264.5" x2="292.82" y2="284.5" stroke="#2a1fd6" stroke-width="1.5"/>
<line x1="289.52" y1="264.5" x2="296.12" y2="264.5" stroke="#2a1fd6" stroke-width="1.5"/>
<line x1="289.52" y1="284.5" x2="296.12" y2="284.5" stroke="#2a1fd6" stroke-width="1.5"/>
<line x1="325.98" y1="248.6" x2="325.98" y2="274.6" stroke="#2a1fd6" stroke-width="1.5"/>
<line x1="322.68" y1="248.6" x2="329.28" y2="248.6" stroke="#2a1fd6" stroke-width="1.5"/>
<line x1="322.68" y1="274.6" x2="329.28" y2="274.6" stroke="#2a1fd6" stroke-width="1.5"/>
<line x1="359.14" y1="228" x2="359.14" y2="256" stroke="#2a1fd6" stroke-width="1.5"/>
<line x1="355.84" y1="228" x2="362.44" y2="228" stroke="#2a1fd6" stroke-width="1.5"/>
<line x1="355.84" y1="256" x2="362.44" y2="256" stroke="#2a1fd6" stroke-width="1.5"/>
<line x1="226.5" y1="326" x2="226.5" y2="331" stroke="#2a1fd6" stroke-width="1.5"/>
<line x1="223.2" y1="326" x2="229.8" y2="326" stroke="#2a1fd6" stroke-width="1.5"/>
<line x1="223.2" y1="331" x2="229.8" y2="331" stroke="#2a1fd6" stroke-width="1.5"/>
<line x1="259.66" y1="299" x2="259.66" y2="307" stroke="#2a1fd6" stroke-width="1.5"/>
<line x1="256.36" y1="299" x2="262.96" y2="299" stroke="#2a1fd6" stroke-width="1.5"/>
<line x1="256.36" y1="307" x2="262.96" y2="307" stroke="#2a1fd6" stroke-width="1.5"/>
<line x1="292.82" y1="285.4" x2="292.82" y2="301.4" stroke="#2a1fd6" stroke-width="1.5"/>
<line x1="289.52" y1="285.4" x2="296.12" y2="285.4" stroke="#2a1fd6" stroke-width="1.5"/>
<line x1="289.52" y1="301.4" x2="296.12" y2="301.4" stroke="#2a1fd6" stroke-width="1.5"/>
<line x1="325.98" y1="269" x2="325.98" y2="292" stroke="#2a1fd6" stroke-width="1.5"/>
<line x1="322.68" y1="269" x2="329.28" y2="269" stroke="#2a1fd6" stroke-width="1.5"/>
<line x1="322.68" y1="292" x2="329.28" y2="292" stroke="#2a1fd6" stroke-width="1.5"/>
<line x1="359.14" y1="246" x2="359.14" y2="270" stroke="#2a1fd6" stroke-width="1.5"/>
<line x1="355.84" y1="246" x2="362.44" y2="246" stroke="#2a1fd6" stroke-width="1.5"/>
<line x1="355.84" y1="270" x2="362.44" y2="270" stroke="#2a1fd6" stroke-width="1.5"/>
<circle cx="226.5" cy="329.2" r="3.3" fill="#111"/>
<circle cx="259.66" cy="295.5" r="3.3" fill="#111"/>
<circle cx="292.82" cy="296" r="3.3" fill="#111"/>
<circle cx="325.98" cy="280" r="3.3" fill="#111"/>
<circle cx="359.14" cy="273" r="3.3" fill="#111"/>
<circle cx="226.5" cy="330" r="3.4" fill="#fff" stroke="#111" stroke-width="1.5"/>
<circle cx="259.66" cy="293.4" r="3.4" fill="#fff" stroke="#111" stroke-width="1.5"/>
<circle cx="292.82" cy="265.5" r="3.4" fill="#fff" stroke="#111" stroke-width="1.5"/>
<circle cx="325.98" cy="247" r="3.4" fill="#fff" stroke="#111" stroke-width="1.5"/>
<circle cx="359.14" cy="223.8" r="3.4" fill="#fff" stroke="#111" stroke-width="1.5"/>
<polygon points="223.1,324.32 229.9,324.32 226.5,330.75" fill="#2a1fd6"/>
<polygon points="256.26,284.52 263.06,284.52 259.66,290.95" fill="#2a1fd6"/>
<polygon points="289.42,271.82 296.22,271.82 292.82,278.25" fill="#2a1fd6"/>
<polygon points="322.58,258.92 329.38,258.92 325.98,265.35" fill="#2a1fd6"/>
<polygon points="355.74,239.32 362.54,239.32 359.14,245.75" fill="#2a1fd6"/>
<polygon points="223.1,331.18 229.9,331.18 226.5,324.75" fill="#fff" stroke="#2a1fd6" stroke-width="1.3" stroke-linejoin="miter"/>
<polygon points="256.26,305.68 263.06,305.68 259.66,299.25" fill="#fff" stroke="#2a1fd6" stroke-width="1.3" stroke-linejoin="miter"/>
<polygon points="289.42,296.08 296.22,296.08 292.82,289.65" fill="#fff" stroke="#2a1fd6" stroke-width="1.3" stroke-linejoin="miter"/>
<polygon points="322.58,283.18 329.38,283.18 325.98,276.75" fill="#fff" stroke="#2a1fd6" stroke-width="1.3" stroke-linejoin="miter"/>
<polygon points="355.74,260.68 362.54,260.68 359.14,254.25" fill="#fff" stroke="#2a1fd6" stroke-width="1.3" stroke-linejoin="miter"/>
<line x1="309" y1="304" x2="322.6" y2="304" stroke="#111" stroke-width="1.5"/>
<circle cx="315.8" cy="304" r="3.3" fill="#111"/>
<text x="332" y="307.4" font-size="9.6" fill="#141414">Rip-Cre V</text>
<line x1="309" y1="315.5" x2="322.6" y2="315.5" stroke="#111" stroke-width="1.5" stroke-dasharray="3.4 6.8"/>
<circle cx="315.8" cy="315.5" r="2.9" fill="#fff" stroke="#111" stroke-width="1.3"/>
<text x="332" y="318.9" font-size="9.6" fill="#141414">Rip-Cre DHT</text>
<line x1="309" y1="330" x2="322.6" y2="330" stroke="#2a1fd6" stroke-width="1.5"/>
<polygon points="312.4,327.32 319.2,327.32 315.8,333.75" fill="#2a1fd6"/>
<text x="332" y="333.6" font-size="9.6" fill="#141414">βARKO<tspan font-size="7" dy="-3.3">RIP</tspan><tspan dy="3.3"> V</tspan></text>
<line x1="309" y1="343.6" x2="322.6" y2="343.6" stroke="#2a1fd6" stroke-width="1.5" stroke-dasharray="3.4 6.8"/>
<polygon points="312.4,346.28 319.2,346.28 315.8,339.85" fill="#fff" stroke="#2a1fd6" stroke-width="1.3" stroke-linejoin="miter"/>
<text x="332" y="347.2" font-size="9.6" fill="#141414">βARKO<tspan font-size="7" dy="-3.3">RIP</tspan><tspan dy="3.3"> DHT</tspan></text>
<line x1="447" y1="223.45" x2="447" y2="352.05" stroke="#111" stroke-width="1.5"/>
<line x1="443.5" y1="351.3" x2="447" y2="351.3" stroke="#111" stroke-width="1.5"/>
<text transform="translate(442.41 353.78) scale(1.15 1)" font-size="6.9" fill="#2a2a2a" text-anchor="end" letter-spacing="0.7" stroke="#2a2a2a" stroke-width="0.2">-10</text>
<line x1="443.5" y1="330.12" x2="447" y2="330.12" stroke="#111" stroke-width="1.5"/>
<text transform="translate(442.41 332.6) scale(1.15 1)" font-size="6.9" fill="#2a2a2a" text-anchor="end" letter-spacing="0.7" stroke="#2a2a2a" stroke-width="0.2">0</text>
<line x1="443.5" y1="308.94" x2="447" y2="308.94" stroke="#111" stroke-width="1.5"/>
<text transform="translate(442.41 311.42) scale(1.15 1)" font-size="6.9" fill="#2a2a2a" text-anchor="end" letter-spacing="0.7" stroke="#2a2a2a" stroke-width="0.2">10</text>
<line x1="443.5" y1="287.76" x2="447" y2="287.76" stroke="#111" stroke-width="1.5"/>
<text transform="translate(442.41 290.24) scale(1.15 1)" font-size="6.9" fill="#2a2a2a" text-anchor="end" letter-spacing="0.7" stroke="#2a2a2a" stroke-width="0.2">20</text>
<line x1="443.5" y1="266.58" x2="447" y2="266.58" stroke="#111" stroke-width="1.5"/>
<text transform="translate(442.41 269.06) scale(1.15 1)" font-size="6.9" fill="#2a2a2a" text-anchor="end" letter-spacing="0.7" stroke="#2a2a2a" stroke-width="0.2">30</text>
<line x1="443.5" y1="245.4" x2="447" y2="245.4" stroke="#111" stroke-width="1.5"/>
<text transform="translate(442.41 247.88) scale(1.15 1)" font-size="6.9" fill="#2a2a2a" text-anchor="end" letter-spacing="0.7" stroke="#2a2a2a" stroke-width="0.2">40</text>
<line x1="443.5" y1="224.22" x2="447" y2="224.22" stroke="#111" stroke-width="1.5"/>
<text transform="translate(442.41 226.7) scale(1.15 1)" font-size="6.9" fill="#2a2a2a" text-anchor="end" letter-spacing="0.7" stroke="#2a2a2a" stroke-width="0.2">50</text>
<line x1="446.25" y1="351.3" x2="532.6" y2="351.3" stroke="#111" stroke-width="1.5"/>
<line x1="458.4" y1="351.3" x2="458.4" y2="355.3" stroke="#111" stroke-width="1.3"/>
<line x1="479.6" y1="351.3" x2="479.6" y2="355.3" stroke="#111" stroke-width="1.3"/>
<line x1="500.4" y1="351.3" x2="500.4" y2="355.3" stroke="#111" stroke-width="1.3"/>
<line x1="521.6" y1="351.3" x2="521.6" y2="355.3" stroke="#111" stroke-width="1.3"/>
<path d="M451.3,351.3 V305.5 H465.5 V351.3" fill="none" stroke="#111" stroke-width="1.25"/>
<path d="M472.5,351.3 V290 H486.7 V351.3" fill="none" stroke="#111" stroke-width="1.25"/>
<path d="M493.3,351.3 V296.3 H507.5 V351.3" fill="none" stroke="#2a1fd6" stroke-width="1.25"/>
<path d="M514.5,351.3 V305 H528.7 V351.3" fill="none" stroke="#2a1fd6" stroke-width="1.25"/>
<line x1="447" y1="330.12" x2="532.6" y2="330.12" stroke="#111" stroke-width="1.4"/>
<text transform="translate(425.1 286.33) rotate(-90) scale(1.15 1)" font-size="8.5" fill="#2a2a2a" text-anchor="middle" letter-spacing="1" stroke="#2a2a2a" stroke-width="0.2">AUC (mg/dl x min x 10<tspan font-size="5.44" dy="-5.27">3</tspan><tspan dy="5.27">)</tspan></text>
<circle cx="455" cy="275.6" r="1.9" fill="#8a8a8a"/>
<circle cx="461.4" cy="274.8" r="1.9" fill="#8a8a8a"/>
<circle cx="458.2" cy="280.5" r="1.9" fill="#8a8a8a"/>
<circle cx="454.4" cy="284" r="1.9" fill="#8a8a8a"/>
<circle cx="459.6" cy="283.6" r="1.9" fill="#8a8a8a"/>
<circle cx="462.4" cy="279.6" r="1.9" fill="#8a8a8a"/>
<circle cx="456.8" cy="297" r="1.9" fill="#8a8a8a"/>
<circle cx="461.2" cy="299.6" r="1.9" fill="#8a8a8a"/>
<circle cx="455.4" cy="303.6" r="1.9" fill="#8a8a8a"/>
<circle cx="460" cy="310" r="1.9" fill="#8a8a8a"/>
<circle cx="463" cy="313.4" r="1.9" fill="#8a8a8a"/>
<circle cx="454.8" cy="323.4" r="1.9" fill="#8a8a8a"/>
<circle cx="460.8" cy="323.8" r="1.9" fill="#8a8a8a"/>
<circle cx="457.6" cy="326.6" r="1.9" fill="#8a8a8a"/>
<circle cx="455.8" cy="329.4" r="1.9" fill="#8a8a8a"/>
<circle cx="461.6" cy="329.4" r="1.9" fill="#8a8a8a"/>
<circle cx="456" cy="336.4" r="1.9" fill="#8a8a8a"/>
<circle cx="461.2" cy="334.6" r="1.9" fill="#8a8a8a"/>
<circle cx="458.6" cy="318" r="1.9" fill="#8a8a8a"/>
<circle cx="457" cy="291" r="1.9" fill="#8a8a8a"/>
<circle cx="476.8" cy="236.8" r="1.9" fill="#8a8a8a"/>
<circle cx="482.5" cy="240.8" r="1.9" fill="#8a8a8a"/>
<circle cx="479.5" cy="261.8" r="1.9" fill="#8a8a8a"/>
<circle cx="479.5" cy="272.5" r="1.9" fill="#8a8a8a"/>
<circle cx="475" cy="275" r="1.9" fill="#8a8a8a"/>
<circle cx="483.8" cy="277.5" r="1.9" fill="#8a8a8a"/>
<circle cx="476" cy="282" r="1.9" fill="#8a8a8a"/>
<circle cx="482.4" cy="286.6" r="1.9" fill="#8a8a8a"/>
<circle cx="478" cy="291.4" r="1.9" fill="#8a8a8a"/>
<circle cx="484.4" cy="294" r="1.9" fill="#8a8a8a"/>
<circle cx="475.4" cy="298.4" r="1.9" fill="#8a8a8a"/>
<circle cx="481" cy="301.6" r="1.9" fill="#8a8a8a"/>
<circle cx="477" cy="310.6" r="1.9" fill="#8a8a8a"/>
<circle cx="483" cy="314.6" r="1.9" fill="#8a8a8a"/>
<circle cx="479.4" cy="319" r="1.9" fill="#8a8a8a"/>
<circle cx="476.6" cy="321.8" r="1.9" fill="#8a8a8a"/>
<circle cx="482.6" cy="321.6" r="1.9" fill="#8a8a8a"/>
<circle cx="479.8" cy="305" r="1.9" fill="#8a8a8a"/>
<circle cx="500.8" cy="246.5" r="1.9" fill="#5a4fd6"/>
<circle cx="500.8" cy="260.3" r="1.9" fill="#5a4fd6"/>
<circle cx="500.8" cy="266.5" r="1.9" fill="#5a4fd6"/>
<circle cx="496.6" cy="278" r="1.9" fill="#5a4fd6"/>
<circle cx="499" cy="280.6" r="1.9" fill="#5a4fd6"/>
<circle cx="502.6" cy="280.6" r="1.9" fill="#5a4fd6"/>
<circle cx="505" cy="277.6" r="1.9" fill="#5a4fd6"/>
<circle cx="500.8" cy="283.4" r="1.9" fill="#5a4fd6"/>
<circle cx="497.4" cy="297.6" r="1.9" fill="#5a4fd6"/>
<circle cx="504.4" cy="295.6" r="1.9" fill="#5a4fd6"/>
<circle cx="500.8" cy="302" r="1.9" fill="#5a4fd6"/>
<circle cx="497" cy="308.6" r="1.9" fill="#5a4fd6"/>
<circle cx="504" cy="311" r="1.9" fill="#5a4fd6"/>
<circle cx="500.4" cy="315.4" r="1.9" fill="#5a4fd6"/>
<circle cx="497.6" cy="318.6" r="1.9" fill="#5a4fd6"/>
<circle cx="503.6" cy="320" r="1.9" fill="#5a4fd6"/>
<circle cx="498" cy="327.6" r="1.9" fill="#5a4fd6"/>
<circle cx="503.8" cy="328.6" r="1.9" fill="#5a4fd6"/>
<circle cx="500.8" cy="336.6" r="1.9" fill="#5a4fd6"/>
<circle cx="500.8" cy="291" r="1.9" fill="#5a4fd6"/>
<circle cx="522" cy="265" r="1.9" fill="#5a4fd6"/>
<circle cx="522" cy="282.5" r="1.9" fill="#5a4fd6"/>
<circle cx="518.4" cy="291.6" r="1.9" fill="#5a4fd6"/>
<circle cx="525.4" cy="290.4" r="1.9" fill="#5a4fd6"/>
<circle cx="521.8" cy="295" r="1.9" fill="#5a4fd6"/>
<circle cx="518" cy="299.4" r="1.9" fill="#5a4fd6"/>
<circle cx="525.6" cy="298.8" r="1.9" fill="#5a4fd6"/>
<circle cx="522" cy="303.4" r="1.9" fill="#5a4fd6"/>
<circle cx="518.6" cy="309.4" r="1.9" fill="#5a4fd6"/>
<circle cx="525" cy="311" r="1.9" fill="#5a4fd6"/>
<circle cx="521.4" cy="315" r="1.9" fill="#5a4fd6"/>
<circle cx="518.4" cy="319" r="1.9" fill="#5a4fd6"/>
<circle cx="525.2" cy="320.6" r="1.9" fill="#5a4fd6"/>
<circle cx="522" cy="324.4" r="1.9" fill="#5a4fd6"/>
<circle cx="518.6" cy="327.6" r="1.9" fill="#5a4fd6"/>
<circle cx="525.2" cy="328.4" r="1.9" fill="#5a4fd6"/>
<circle cx="521.8" cy="334" r="1.9" fill="#5a4fd6"/>
<line x1="458.4" y1="300.5" x2="458.4" y2="310" stroke="#111" stroke-width="1.3"/>
<line x1="454.9" y1="300.5" x2="461.9" y2="300.5" stroke="#111" stroke-width="1.3"/>
<line x1="454.9" y1="310" x2="461.9" y2="310" stroke="#111" stroke-width="1.3"/>
<line x1="479.6" y1="284.5" x2="479.6" y2="295.8" stroke="#111" stroke-width="1.3"/>
<line x1="476.1" y1="284.5" x2="483.1" y2="284.5" stroke="#111" stroke-width="1.3"/>
<line x1="476.1" y1="295.8" x2="483.1" y2="295.8" stroke="#111" stroke-width="1.3"/>
<line x1="500.4" y1="291.3" x2="500.4" y2="301.2" stroke="#111" stroke-width="1.3"/>
<line x1="496.9" y1="291.3" x2="503.9" y2="291.3" stroke="#111" stroke-width="1.3"/>
<line x1="496.9" y1="301.2" x2="503.9" y2="301.2" stroke="#111" stroke-width="1.3"/>
<line x1="521.6" y1="300" x2="521.6" y2="310" stroke="#111" stroke-width="1.3"/>
<line x1="518.1" y1="300" x2="525.1" y2="300" stroke="#111" stroke-width="1.3"/>
<line x1="518.1" y1="310" x2="525.1" y2="310" stroke="#111" stroke-width="1.3"/>
<text x="470" y="216.33" font-size="12.6" fill="#000" text-anchor="middle" font-weight="bold">*</text>
<line x1="458" y1="215.8" x2="481.3" y2="215.8" stroke="#969696" stroke-width="1.1"/>
<text transform="translate(460.2 363.5) rotate(-45)" font-size="8.2" fill="#2a2a2a" text-anchor="end" letter-spacing="1.05" stroke="#2a2a2a" stroke-width="0.2">V</text>
<text transform="translate(481.4 363.5) rotate(-45)" font-size="8.2" fill="#2a2a2a" text-anchor="end" letter-spacing="1.05" stroke="#2a2a2a" stroke-width="0.2">DHT</text>
<text transform="translate(502.2 363.5) rotate(-45)" font-size="8.2" fill="#2a2a2a" text-anchor="end" letter-spacing="1.05" stroke="#2a2a2a" stroke-width="0.2">V</text>
<text transform="translate(523.4 363.5) rotate(-45)" font-size="8.2" fill="#2a2a2a" text-anchor="end" letter-spacing="1.05" stroke="#2a2a2a" stroke-width="0.2">DHT</text>
<line x1="449.3" y1="382" x2="481.3" y2="382" stroke="#111" stroke-width="1.5"/>
<line x1="493.8" y1="382" x2="525" y2="382" stroke="#111" stroke-width="1.5"/>
<text x="464.6" y="397.4" font-size="8.2" fill="#2a2a2a" text-anchor="middle" letter-spacing="1.05" stroke="#2a2a2a" stroke-width="0.2">Rip-Cre</text>
<text x="487.6" y="397.4" font-size="8.2" fill="#2a2a2a" letter-spacing="1.05" stroke="#2a2a2a" stroke-width="0.2">βARKO<tspan font-size="6.23" dx="1" dy="-6.07">RIP</tspan></text>
<text x="540.6" y="212.3" font-size="13.2" fill="#000" font-weight="bold" stroke="#000" stroke-width="0.55" stroke-linejoin="round">D</text>
<line x1="578.3" y1="223.05" x2="578.3" y2="352.05" stroke="#111" stroke-width="1.5"/>
<line x1="574.8" y1="351.3" x2="578.3" y2="351.3" stroke="#111" stroke-width="1.5"/>
<text transform="translate(573.6 353.78) scale(1.15 1)" font-size="6.9" fill="#2a2a2a" text-anchor="end" letter-spacing="0.7" stroke="#2a2a2a" stroke-width="0.2">0</text>
<line x1="574.8" y1="308.8" x2="578.3" y2="308.8" stroke="#111" stroke-width="1.5"/>
<text transform="translate(573.6 311.28) scale(1.15 1)" font-size="6.9" fill="#2a2a2a" text-anchor="end" letter-spacing="0.7" stroke="#2a2a2a" stroke-width="0.2">200</text>
<line x1="574.8" y1="266.3" x2="578.3" y2="266.3" stroke="#111" stroke-width="1.5"/>
<text transform="translate(573.6 268.78) scale(1.15 1)" font-size="6.9" fill="#2a2a2a" text-anchor="end" letter-spacing="0.7" stroke="#2a2a2a" stroke-width="0.2">400</text>
<line x1="574.8" y1="223.8" x2="578.3" y2="223.8" stroke="#111" stroke-width="1.5"/>
<text transform="translate(573.6 226.28) scale(1.15 1)" font-size="6.9" fill="#2a2a2a" text-anchor="end" letter-spacing="0.7" stroke="#2a2a2a" stroke-width="0.2">600</text>
<line x1="577.55" y1="351.3" x2="663.8" y2="351.3" stroke="#111" stroke-width="1.5"/>
<line x1="589.7" y1="351.3" x2="589.7" y2="355.3" stroke="#111" stroke-width="1.3"/>
<line x1="610.9" y1="351.3" x2="610.9" y2="355.3" stroke="#111" stroke-width="1.3"/>
<line x1="632.1" y1="351.3" x2="632.1" y2="355.3" stroke="#111" stroke-width="1.3"/>
<line x1="653.4" y1="351.3" x2="653.4" y2="355.3" stroke="#111" stroke-width="1.3"/>
<path d="M582.5,351.3 V294.3 H596.8 V351.3" fill="none" stroke="#111" stroke-width="1.25"/>
<path d="M603.8,351.3 V272.5 H618 V351.3" fill="none" stroke="#111" stroke-width="1.25"/>
<path d="M625,351.3 V280.5 H639.3 V351.3" fill="none" stroke="#2a1fd6" stroke-width="1.25"/>
<path d="M646.3,351.3 V286.8 H660.5 V351.3" fill="none" stroke="#2a1fd6" stroke-width="1.25"/>
<text transform="translate(551.3 286.72) rotate(-90) scale(1.15 1)" font-size="8.5" fill="#2a2a2a" text-anchor="middle" letter-spacing="1" stroke="#2a2a2a" stroke-width="0.2">Day 8 glucose (mg/dl)</text>
<circle cx="587" cy="258" r="1.9" fill="#8a8a8a"/>
<circle cx="595.4" cy="259.4" r="1.9" fill="#8a8a8a"/>
<circle cx="592" cy="265.4" r="1.9" fill="#8a8a8a"/>
<circle cx="586.6" cy="268.4" r="1.9" fill="#8a8a8a"/>
<circle cx="593" cy="278.6" r="1.9" fill="#8a8a8a"/>
<circle cx="587.4" cy="283.6" r="1.9" fill="#8a8a8a"/>
<circle cx="591.4" cy="285.6" r="1.9" fill="#8a8a8a"/>
<circle cx="594.6" cy="284.4" r="1.9" fill="#8a8a8a"/>
<circle cx="589.6" cy="291" r="1.9" fill="#8a8a8a"/>
<circle cx="586.4" cy="305.2" r="1.9" fill="#8a8a8a"/>
<circle cx="592.4" cy="306.4" r="1.9" fill="#8a8a8a"/>
<circle cx="589.6" cy="310" r="1.9" fill="#8a8a8a"/>
<circle cx="583.8" cy="316" r="1.9" fill="#8a8a8a"/>
<circle cx="594.6" cy="317.4" r="1.9" fill="#8a8a8a"/>
<circle cx="592" cy="319.4" r="1.9" fill="#8a8a8a"/>
<circle cx="586.4" cy="321.6" r="1.9" fill="#8a8a8a"/>
<circle cx="591.6" cy="324.8" r="1.9" fill="#8a8a8a"/>
<circle cx="587.8" cy="326" r="1.9" fill="#8a8a8a"/>
<circle cx="589.6" cy="298" r="1.9" fill="#8a8a8a"/>
<circle cx="606.6" cy="233.6" r="1.9" fill="#8a8a8a"/>
<circle cx="610.4" cy="235" r="1.9" fill="#8a8a8a"/>
<circle cx="614.6" cy="231.4" r="1.9" fill="#8a8a8a"/>
<circle cx="606.4" cy="246" r="1.9" fill="#8a8a8a"/>
<circle cx="614.6" cy="247.6" r="1.9" fill="#8a8a8a"/>
<circle cx="610.4" cy="252" r="1.9" fill="#8a8a8a"/>
<circle cx="607.6" cy="266" r="1.9" fill="#8a8a8a"/>
<circle cx="613.6" cy="268" r="1.9" fill="#8a8a8a"/>
<circle cx="609.6" cy="273" r="1.9" fill="#8a8a8a"/>
<circle cx="605.8" cy="283.4" r="1.9" fill="#8a8a8a"/>
<circle cx="613.8" cy="285.2" r="1.9" fill="#8a8a8a"/>
<circle cx="610" cy="289.6" r="1.9" fill="#8a8a8a"/>
<circle cx="606.8" cy="293.6" r="1.9" fill="#8a8a8a"/>
<circle cx="614.6" cy="294.8" r="1.9" fill="#8a8a8a"/>
<circle cx="610.6" cy="297" r="1.9" fill="#8a8a8a"/>
<circle cx="613.2" cy="300.6" r="1.9" fill="#8a8a8a"/>
<circle cx="606.4" cy="302.4" r="1.9" fill="#8a8a8a"/>
<circle cx="611.4" cy="304" r="1.9" fill="#8a8a8a"/>
<circle cx="610.8" cy="312.6" r="1.9" fill="#8a8a8a"/>
<circle cx="629.4" cy="232.6" r="1.9" fill="#5a4fd6"/>
<circle cx="634.4" cy="236.6" r="1.9" fill="#5a4fd6"/>
<circle cx="627.6" cy="247.4" r="1.9" fill="#5a4fd6"/>
<circle cx="632" cy="252.4" r="1.9" fill="#5a4fd6"/>
<circle cx="636" cy="252" r="1.9" fill="#5a4fd6"/>
<circle cx="629" cy="259.4" r="1.9" fill="#5a4fd6"/>
<circle cx="634.6" cy="260.6" r="1.9" fill="#5a4fd6"/>
<circle cx="632" cy="268" r="1.9" fill="#5a4fd6"/>
<circle cx="629.4" cy="276.6" r="1.9" fill="#5a4fd6"/>
<circle cx="635" cy="278.4" r="1.9" fill="#5a4fd6"/>
<circle cx="632" cy="285" r="1.9" fill="#5a4fd6"/>
<circle cx="628.8" cy="289.8" r="1.9" fill="#5a4fd6"/>
<circle cx="635.2" cy="291.2" r="1.9" fill="#5a4fd6"/>
<circle cx="627.6" cy="310.4" r="1.9" fill="#5a4fd6"/>
<circle cx="632" cy="311.4" r="1.9" fill="#5a4fd6"/>
<circle cx="636.2" cy="310.4" r="1.9" fill="#5a4fd6"/>
<circle cx="634.6" cy="301.6" r="1.9" fill="#5a4fd6"/>
<circle cx="630" cy="303" r="1.9" fill="#5a4fd6"/>
<circle cx="634.4" cy="317.4" r="1.9" fill="#5a4fd6"/>
<circle cx="629.4" cy="321.6" r="1.9" fill="#5a4fd6"/>
<circle cx="653.4" cy="232.4" r="1.9" fill="#5a4fd6"/>
<circle cx="653.4" cy="251.8" r="1.9" fill="#5a4fd6"/>
<circle cx="649.6" cy="265.2" r="1.9" fill="#5a4fd6"/>
<circle cx="656" cy="264.4" r="1.9" fill="#5a4fd6"/>
<circle cx="648.6" cy="272.6" r="1.9" fill="#5a4fd6"/>
<circle cx="652.6" cy="273.4" r="1.9" fill="#5a4fd6"/>
<circle cx="657.2" cy="270.4" r="1.9" fill="#5a4fd6"/>
<circle cx="653" cy="279.6" r="1.9" fill="#5a4fd6"/>
<circle cx="649.8" cy="285.4" r="1.9" fill="#5a4fd6"/>
<circle cx="656.6" cy="286.6" r="1.9" fill="#5a4fd6"/>
<circle cx="653.2" cy="293.6" r="1.9" fill="#5a4fd6"/>
<circle cx="648.8" cy="303.2" r="1.9" fill="#5a4fd6"/>
<circle cx="653.2" cy="302.4" r="1.9" fill="#5a4fd6"/>
<circle cx="657.4" cy="305.2" r="1.9" fill="#5a4fd6"/>
<circle cx="653.2" cy="309" r="1.9" fill="#5a4fd6"/>
<circle cx="653" cy="315.6" r="1.9" fill="#5a4fd6"/>
<circle cx="656.2" cy="318.8" r="1.9" fill="#5a4fd6"/>
<circle cx="650.4" cy="323" r="1.9" fill="#5a4fd6"/>
<line x1="589.7" y1="288.8" x2="589.7" y2="300" stroke="#111" stroke-width="1.3"/>
<line x1="586.2" y1="288.8" x2="593.2" y2="288.8" stroke="#111" stroke-width="1.3"/>
<line x1="586.2" y1="300" x2="593.2" y2="300" stroke="#111" stroke-width="1.3"/>
<line x1="610.9" y1="266.3" x2="610.9" y2="278.3" stroke="#111" stroke-width="1.3"/>
<line x1="607.4" y1="266.3" x2="614.4" y2="266.3" stroke="#111" stroke-width="1.3"/>
<line x1="607.4" y1="278.3" x2="614.4" y2="278.3" stroke="#111" stroke-width="1.3"/>
<line x1="632.1" y1="274.5" x2="632.1" y2="287.5" stroke="#111" stroke-width="1.3"/>
<line x1="628.6" y1="274.5" x2="635.6" y2="274.5" stroke="#111" stroke-width="1.3"/>
<line x1="628.6" y1="287.5" x2="635.6" y2="287.5" stroke="#111" stroke-width="1.3"/>
<line x1="653.4" y1="281.3" x2="653.4" y2="293" stroke="#111" stroke-width="1.3"/>
<line x1="649.9" y1="281.3" x2="656.9" y2="281.3" stroke="#111" stroke-width="1.3"/>
<line x1="649.9" y1="293" x2="656.9" y2="293" stroke="#111" stroke-width="1.3"/>
<text x="600" y="220.83" font-size="12.6" fill="#000" text-anchor="middle" font-weight="bold">**</text>
<line x1="589.3" y1="219.4" x2="610.8" y2="219.4" stroke="#969696" stroke-width="1.1"/>
<text transform="translate(591.5 363.5) rotate(-45)" font-size="8.2" fill="#2a2a2a" text-anchor="end" letter-spacing="1.05" stroke="#2a2a2a" stroke-width="0.2">V</text>
<text transform="translate(612.7 363.5) rotate(-45)" font-size="8.2" fill="#2a2a2a" text-anchor="end" letter-spacing="1.05" stroke="#2a2a2a" stroke-width="0.2">DHT</text>
<text transform="translate(633.9 363.5) rotate(-45)" font-size="8.2" fill="#2a2a2a" text-anchor="end" letter-spacing="1.05" stroke="#2a2a2a" stroke-width="0.2">V</text>
<text transform="translate(655.2 363.5) rotate(-45)" font-size="8.2" fill="#2a2a2a" text-anchor="end" letter-spacing="1.05" stroke="#2a2a2a" stroke-width="0.2">DHT</text>
<line x1="580" y1="382.5" x2="612.5" y2="382.5" stroke="#111" stroke-width="1.5"/>
<line x1="624.5" y1="382.5" x2="656.8" y2="382.5" stroke="#111" stroke-width="1.5"/>
<text x="595.3" y="397.8" font-size="8.2" fill="#2a2a2a" text-anchor="middle" letter-spacing="1.05" stroke="#2a2a2a" stroke-width="0.2">Rip-Cre</text>
<text x="619" y="397.8" font-size="8.2" fill="#2a2a2a" letter-spacing="1.05" stroke="#2a2a2a" stroke-width="0.2">βARKO<tspan font-size="6.23" dx="1" dy="-6.07">RIP</tspan></text>
<text x="7" y="414" font-size="13.2" fill="#000" font-weight="bold" stroke="#000" stroke-width="0.55" stroke-linejoin="round">E</text>
<line x1="38.8" y1="425.25" x2="38.8" y2="554.05" stroke="#111" stroke-width="1.5"/>
<line x1="34.3" y1="553.3" x2="38.8" y2="553.3" stroke="#111" stroke-width="1.5"/>
<text x="34.6" y="557.15" font-size="10.7" fill="#141414" text-anchor="end">0.0</text>
<line x1="34.3" y1="500.45" x2="38.8" y2="500.45" stroke="#111" stroke-width="1.5"/>
<text x="34.6" y="504.3" font-size="10.7" fill="#141414" text-anchor="end">0.5</text>
<line x1="34.3" y1="447.6" x2="38.8" y2="447.6" stroke="#111" stroke-width="1.5"/>
<text x="34.6" y="451.45" font-size="10.7" fill="#141414" text-anchor="end">1.0</text>
<line x1="38.05" y1="553.3" x2="123.8" y2="553.3" stroke="#111" stroke-width="1.5"/>
<line x1="49.5" y1="553.3" x2="49.5" y2="557.8" stroke="#111" stroke-width="1.3"/>
<line x1="70.6" y1="553.3" x2="70.6" y2="557.8" stroke="#111" stroke-width="1.3"/>
<line x1="91.8" y1="553.3" x2="91.8" y2="557.8" stroke="#111" stroke-width="1.3"/>
<line x1="113" y1="553.3" x2="113" y2="557.8" stroke="#111" stroke-width="1.3"/>
<path d="M42,553.3 V513.3 H57 V553.3" fill="none" stroke="#111" stroke-width="1.5"/>
<path d="M63.2,553.3 V535 H78 V553.3" fill="none" stroke="#111" stroke-width="1.5"/>
<path d="M84.3,553.3 V527 H99.2 V553.3" fill="none" stroke="#2a1fd6" stroke-width="1.5"/>
<path d="M105.5,553.3 V511.8 H120.5 V553.3" fill="none" stroke="#2a1fd6" stroke-width="1.5"/>
<text transform="translate(14.4 489.6) rotate(-90)" font-size="11.8" fill="#141414" text-anchor="middle">Day 8&#160; insulin (ng/ml)</text>
<circle cx="49.5" cy="439.5" r="2" fill="#8a8a8a"/>
<circle cx="49.5" cy="467" r="2" fill="#8a8a8a"/>
<circle cx="49.5" cy="491.8" r="2" fill="#8a8a8a"/>
<circle cx="52.6" cy="520.4" r="2" fill="#8a8a8a"/>
<circle cx="46.4" cy="524" r="2" fill="#8a8a8a"/>
<circle cx="49.4" cy="527.4" r="2" fill="#8a8a8a"/>
<circle cx="53" cy="530.4" r="2" fill="#8a8a8a"/>
<circle cx="46.6" cy="533.6" r="2" fill="#8a8a8a"/>
<circle cx="50.2" cy="536" r="2" fill="#8a8a8a"/>
<circle cx="53.4" cy="537.6" r="2" fill="#8a8a8a"/>
<circle cx="47.6" cy="538.6" r="2" fill="#8a8a8a"/>
<circle cx="50.6" cy="539.6" r="2" fill="#8a8a8a"/>
<circle cx="70.6" cy="523" r="2" fill="#8a8a8a"/>
<circle cx="67.6" cy="527.6" r="2" fill="#8a8a8a"/>
<circle cx="73.8" cy="527.4" r="2" fill="#8a8a8a"/>
<circle cx="65.8" cy="532.6" r="2" fill="#8a8a8a"/>
<circle cx="70.6" cy="533.4" r="2" fill="#8a8a8a"/>
<circle cx="75.2" cy="532.6" r="2" fill="#8a8a8a"/>
<circle cx="67.4" cy="537.4" r="2" fill="#8a8a8a"/>
<circle cx="73.6" cy="537.6" r="2" fill="#8a8a8a"/>
<circle cx="70.6" cy="540.6" r="2" fill="#8a8a8a"/>
<circle cx="66.6" cy="541.4" r="2" fill="#8a8a8a"/>
<circle cx="74.6" cy="541.4" r="2" fill="#8a8a8a"/>
<circle cx="70.6" cy="536.4" r="2" fill="#8a8a8a"/>
<circle cx="87.8" cy="514.6" r="2" fill="#5a4fd6"/>
<circle cx="91.8" cy="517.6" r="2" fill="#5a4fd6"/>
<circle cx="95.8" cy="514.6" r="2" fill="#5a4fd6"/>
<circle cx="86.6" cy="527.6" r="2" fill="#5a4fd6"/>
<circle cx="91.6" cy="530.6" r="2" fill="#5a4fd6"/>
<circle cx="96.8" cy="528" r="2" fill="#5a4fd6"/>
<circle cx="88.6" cy="533.6" r="2" fill="#5a4fd6"/>
<circle cx="94.6" cy="534" r="2" fill="#5a4fd6"/>
<circle cx="89" cy="538.4" r="2" fill="#5a4fd6"/>
<circle cx="94.4" cy="538.4" r="2" fill="#5a4fd6"/>
<circle cx="113" cy="429.5" r="2" fill="#5a4fd6"/>
<circle cx="113" cy="453" r="2" fill="#5a4fd6"/>
<circle cx="116" cy="522.6" r="2" fill="#5a4fd6"/>
<circle cx="110" cy="527.6" r="2" fill="#5a4fd6"/>
<circle cx="114.4" cy="529" r="2" fill="#5a4fd6"/>
<circle cx="117.4" cy="531.6" r="2" fill="#5a4fd6"/>
<circle cx="109.6" cy="532.6" r="2" fill="#5a4fd6"/>
<circle cx="113.6" cy="534.6" r="2" fill="#5a4fd6"/>
<circle cx="111" cy="537.6" r="2" fill="#5a4fd6"/>
<circle cx="116.4" cy="537.6" r="2" fill="#5a4fd6"/>
<circle cx="113.4" cy="520" r="2" fill="#5a4fd6"/>
<line x1="49.5" y1="504.3" x2="49.5" y2="522" stroke="#111" stroke-width="1.55"/>
<line x1="45.7" y1="504.3" x2="53.3" y2="504.3" stroke="#111" stroke-width="1.55"/>
<line x1="45.7" y1="522" x2="53.3" y2="522" stroke="#111" stroke-width="1.55"/>
<line x1="70.6" y1="532.5" x2="70.6" y2="537.5" stroke="#111" stroke-width="1.55"/>
<line x1="66.8" y1="532.5" x2="74.4" y2="532.5" stroke="#111" stroke-width="1.55"/>
<line x1="66.8" y1="537.5" x2="74.4" y2="537.5" stroke="#111" stroke-width="1.55"/>
<line x1="91.8" y1="524.3" x2="91.8" y2="530" stroke="#111" stroke-width="1.55"/>
<line x1="88" y1="524.3" x2="95.6" y2="524.3" stroke="#111" stroke-width="1.55"/>
<line x1="88" y1="530" x2="95.6" y2="530" stroke="#111" stroke-width="1.55"/>
<line x1="113" y1="500.8" x2="113" y2="523.3" stroke="#111" stroke-width="1.55"/>
<line x1="109.2" y1="500.8" x2="116.8" y2="500.8" stroke="#111" stroke-width="1.55"/>
<line x1="109.2" y1="523.3" x2="116.8" y2="523.3" stroke="#111" stroke-width="1.55"/>
<text x="60.8" y="427.33" font-size="12.6" fill="#000" text-anchor="middle" font-weight="bold">*</text>
<polyline points="49.5,428.2 49.5,426.8 71.8,426.8 71.8,428.2" fill="none" stroke="#555" stroke-width="1"/>
<text transform="translate(52.4 565.5) rotate(-45)" font-size="10.7" fill="#141414" text-anchor="end">V</text>
<text transform="translate(73.5 565.5) rotate(-45)" font-size="10.7" fill="#141414" text-anchor="end">DHT</text>
<text transform="translate(94.7 565.5) rotate(-45)" font-size="10.7" fill="#141414" text-anchor="end">V</text>
<text transform="translate(115.9 565.5) rotate(-45)" font-size="10.7" fill="#141414" text-anchor="end">DHT</text>
<line x1="38.8" y1="584.3" x2="72.5" y2="584.3" stroke="#111" stroke-width="1.5"/>
<line x1="82.5" y1="584.3" x2="116.3" y2="584.3" stroke="#111" stroke-width="1.5"/>
<text x="56" y="598.6" font-size="10.7" fill="#141414" text-anchor="middle">Rip-Cre</text>
<text x="79.5" y="598.6" font-size="10.7" fill="#141414">βARKO<tspan font-size="7.6" dx="0" dy="-4.5">RIP</tspan></text>
<text x="127.6" y="414" font-size="13.2" fill="#000" font-weight="bold" stroke="#000" stroke-width="0.55" stroke-linejoin="round">F</text>
<line x1="156.8" y1="424.75" x2="156.8" y2="553.75" stroke="#111" stroke-width="1.5"/>
<line x1="153.3" y1="553" x2="156.8" y2="553" stroke="#111" stroke-width="1.5"/>
<text transform="translate(152.21 555.48) scale(1.15 1)" font-size="6.9" fill="#2a2a2a" text-anchor="end" letter-spacing="0.7" stroke="#2a2a2a" stroke-width="0.2">0</text>
<line x1="153.3" y1="510.5" x2="156.8" y2="510.5" stroke="#111" stroke-width="1.5"/>
<text transform="translate(152.21 512.98) scale(1.15 1)" font-size="6.9" fill="#2a2a2a" text-anchor="end" letter-spacing="0.7" stroke="#2a2a2a" stroke-width="0.2">2</text>
<line x1="153.3" y1="468" x2="156.8" y2="468" stroke="#111" stroke-width="1.5"/>
<text transform="translate(152.21 470.48) scale(1.15 1)" font-size="6.9" fill="#2a2a2a" text-anchor="end" letter-spacing="0.7" stroke="#2a2a2a" stroke-width="0.2">4</text>
<line x1="153.3" y1="425.5" x2="156.8" y2="425.5" stroke="#111" stroke-width="1.5"/>
<text transform="translate(152.21 427.98) scale(1.15 1)" font-size="6.9" fill="#2a2a2a" text-anchor="end" letter-spacing="0.7" stroke="#2a2a2a" stroke-width="0.2">6</text>
<line x1="156.05" y1="553" x2="242.6" y2="553" stroke="#111" stroke-width="1.5"/>
<line x1="168" y1="553" x2="168" y2="557" stroke="#111" stroke-width="1.3"/>
<line x1="189" y1="553" x2="189" y2="557" stroke="#111" stroke-width="1.3"/>
<line x1="209.8" y1="553" x2="209.8" y2="557" stroke="#111" stroke-width="1.3"/>
<line x1="231" y1="553" x2="231" y2="557" stroke="#111" stroke-width="1.3"/>
<path d="M160.8,553 V529.3 H175 V553" fill="none" stroke="#111" stroke-width="1.25"/>
<path d="M181.8,553 V545.8 H196.2 V553" fill="none" stroke="#111" stroke-width="1.25"/>
<path d="M202.5,553 V537.5 H217 V553" fill="none" stroke="#2a1fd6" stroke-width="1.25"/>
<path d="M223.8,553 V517.5 H238.2 V553" fill="none" stroke="#2a1fd6" stroke-width="1.25"/>
<text transform="translate(141 488.95) rotate(-90) scale(1.15 1)" font-size="8.5" fill="#2a2a2a" text-anchor="middle" letter-spacing="0.96" stroke="#2a2a2a" stroke-width="0.2">insulin/glucose (10<tspan font-size="5.44" dy="-5.27">3</tspan><tspan dy="5.27">)</tspan></text>
<circle cx="167.5" cy="499" r="1.9" fill="#8a8a8a"/>
<circle cx="164.3" cy="508" r="1.9" fill="#8a8a8a"/>
<circle cx="170.8" cy="507" r="1.9" fill="#8a8a8a"/>
<circle cx="168" cy="521" r="1.9" fill="#8a8a8a"/>
<circle cx="164.6" cy="535.6" r="1.9" fill="#8a8a8a"/>
<circle cx="171.4" cy="534.6" r="1.9" fill="#8a8a8a"/>
<circle cx="167.8" cy="538.6" r="1.9" fill="#8a8a8a"/>
<circle cx="163.8" cy="543.6" r="1.9" fill="#8a8a8a"/>
<circle cx="171.8" cy="544" r="1.9" fill="#8a8a8a"/>
<circle cx="167.6" cy="547.6" r="1.9" fill="#8a8a8a"/>
<circle cx="165" cy="540" r="1.9" fill="#8a8a8a"/>
<circle cx="170" cy="541" r="1.9" fill="#8a8a8a"/>
<circle cx="184" cy="539.4" r="1.9" fill="#8a8a8a"/>
<circle cx="194" cy="541.4" r="1.9" fill="#8a8a8a"/>
<circle cx="188.6" cy="544.6" r="1.9" fill="#8a8a8a"/>
<circle cx="185" cy="546.4" r="1.9" fill="#8a8a8a"/>
<circle cx="192" cy="546.6" r="1.9" fill="#8a8a8a"/>
<circle cx="188.4" cy="548.6" r="1.9" fill="#8a8a8a"/>
<circle cx="186" cy="549.6" r="1.9" fill="#8a8a8a"/>
<circle cx="191.4" cy="549.8" r="1.9" fill="#8a8a8a"/>
<circle cx="209.9" cy="514.8" r="1.9" fill="#5a4fd6"/>
<circle cx="209.9" cy="522.2" r="1.9" fill="#5a4fd6"/>
<circle cx="206.6" cy="538.4" r="1.9" fill="#5a4fd6"/>
<circle cx="213.4" cy="538.6" r="1.9" fill="#5a4fd6"/>
<circle cx="205.4" cy="540.6" r="1.9" fill="#5a4fd6"/>
<circle cx="210" cy="542.6" r="1.9" fill="#5a4fd6"/>
<circle cx="214.4" cy="540.6" r="1.9" fill="#5a4fd6"/>
<circle cx="207.4" cy="545.4" r="1.9" fill="#5a4fd6"/>
<circle cx="212.4" cy="545.6" r="1.9" fill="#5a4fd6"/>
<circle cx="209.8" cy="547.6" r="1.9" fill="#5a4fd6"/>
<circle cx="231.3" cy="433.8" r="1.9" fill="#5a4fd6"/>
<circle cx="231.3" cy="459.3" r="1.9" fill="#5a4fd6"/>
<circle cx="231.3" cy="500.6" r="1.9" fill="#5a4fd6"/>
<circle cx="228.4" cy="523.6" r="1.9" fill="#5a4fd6"/>
<circle cx="234.4" cy="522.6" r="1.9" fill="#5a4fd6"/>
<circle cx="231.4" cy="531.6" r="1.9" fill="#5a4fd6"/>
<circle cx="226.8" cy="540.6" r="1.9" fill="#5a4fd6"/>
<circle cx="235.4" cy="541.4" r="1.9" fill="#5a4fd6"/>
<circle cx="229.4" cy="545.6" r="1.9" fill="#5a4fd6"/>
<circle cx="233.4" cy="545.8" r="1.9" fill="#5a4fd6"/>
<circle cx="231.4" cy="548.6" r="1.9" fill="#5a4fd6"/>
<line x1="168" y1="524.3" x2="168" y2="534.3" stroke="#111" stroke-width="1.3"/>
<line x1="164.5" y1="524.3" x2="171.5" y2="524.3" stroke="#111" stroke-width="1.3"/>
<line x1="164.5" y1="534.3" x2="171.5" y2="534.3" stroke="#111" stroke-width="1.3"/>
<line x1="189" y1="544.4" x2="189" y2="547.4" stroke="#111" stroke-width="1.2"/>
<line x1="185.5" y1="544.4" x2="192.5" y2="544.4" stroke="#111" stroke-width="1.2"/>
<line x1="185.5" y1="547.4" x2="192.5" y2="547.4" stroke="#111" stroke-width="1.2"/>
<line x1="209.8" y1="533.8" x2="209.8" y2="541.3" stroke="#111" stroke-width="1.3"/>
<line x1="206.3" y1="533.8" x2="213.3" y2="533.8" stroke="#111" stroke-width="1.3"/>
<line x1="206.3" y1="541.3" x2="213.3" y2="541.3" stroke="#111" stroke-width="1.3"/>
<line x1="231" y1="506.3" x2="231" y2="529.3" stroke="#111" stroke-width="1.3"/>
<line x1="227.5" y1="506.3" x2="234.5" y2="506.3" stroke="#111" stroke-width="1.3"/>
<line x1="227.5" y1="529.3" x2="234.5" y2="529.3" stroke="#111" stroke-width="1.3"/>
<text x="177.6" y="487.33" font-size="12.6" fill="#000" text-anchor="middle" font-weight="bold">**</text>
<line x1="166.8" y1="485.8" x2="188.8" y2="485.8" stroke="#969696" stroke-width="1.1"/>
<text transform="translate(169.8 565.2) rotate(-45)" font-size="8.2" fill="#2a2a2a" text-anchor="end" letter-spacing="1.05" stroke="#2a2a2a" stroke-width="0.2">V</text>
<text transform="translate(190.8 565.2) rotate(-45)" font-size="8.2" fill="#2a2a2a" text-anchor="end" letter-spacing="1.05" stroke="#2a2a2a" stroke-width="0.2">DHT</text>
<text transform="translate(211.6 565.2) rotate(-45)" font-size="8.2" fill="#2a2a2a" text-anchor="end" letter-spacing="1.05" stroke="#2a2a2a" stroke-width="0.2">V</text>
<text transform="translate(232.8 565.2) rotate(-45)" font-size="8.2" fill="#2a2a2a" text-anchor="end" letter-spacing="1.05" stroke="#2a2a2a" stroke-width="0.2">DHT</text>
<line x1="157.5" y1="583.8" x2="190.8" y2="583.8" stroke="#111" stroke-width="1.5"/>
<line x1="202.5" y1="583.8" x2="235.5" y2="583.8" stroke="#111" stroke-width="1.5"/>
<text x="173.6" y="598.4" font-size="8.2" fill="#2a2a2a" text-anchor="middle" letter-spacing="1.05" stroke="#2a2a2a" stroke-width="0.2">Rip-Cre</text>
<text x="197.2" y="598.4" font-size="8.2" fill="#2a2a2a" letter-spacing="1.05" stroke="#2a2a2a" stroke-width="0.2">βARKO<tspan font-size="6.23" dx="1" dy="-6.07">RIP</tspan></text>
<text x="244.8" y="414" font-size="13.2" fill="#000" font-weight="bold" stroke="#000" stroke-width="0.55" stroke-linejoin="round">G</text>
<line x1="280" y1="428.65" x2="280" y2="552.05" stroke="#111" stroke-width="1.5"/>
<line x1="276.5" y1="551.3" x2="280" y2="551.3" stroke="#111" stroke-width="1.5"/>
<text transform="translate(275.41 553.78) scale(1.15 1)" font-size="6.9" fill="#2a2a2a" text-anchor="end" letter-spacing="0.7" stroke="#2a2a2a" stroke-width="0.2">0.0</text>
<line x1="276.5" y1="522.3" x2="280" y2="522.3" stroke="#111" stroke-width="1.5"/>
<text transform="translate(275.41 524.78) scale(1.15 1)" font-size="6.9" fill="#2a2a2a" text-anchor="end" letter-spacing="0.7" stroke="#2a2a2a" stroke-width="0.2">0.5</text>
<line x1="276.5" y1="493.3" x2="280" y2="493.3" stroke="#111" stroke-width="1.5"/>
<text transform="translate(275.41 495.78) scale(1.15 1)" font-size="6.9" fill="#2a2a2a" text-anchor="end" letter-spacing="0.7" stroke="#2a2a2a" stroke-width="0.2">1.0</text>
<line x1="276.5" y1="464.3" x2="280" y2="464.3" stroke="#111" stroke-width="1.5"/>
<text transform="translate(275.41 466.78) scale(1.15 1)" font-size="6.9" fill="#2a2a2a" text-anchor="end" letter-spacing="0.7" stroke="#2a2a2a" stroke-width="0.2">1.5</text>
<line x1="276.5" y1="435.3" x2="280" y2="435.3" stroke="#111" stroke-width="1.5"/>
<text transform="translate(275.41 437.78) scale(1.15 1)" font-size="6.9" fill="#2a2a2a" text-anchor="end" letter-spacing="0.7" stroke="#2a2a2a" stroke-width="0.2">2.0</text>
<line x1="279.25" y1="551.3" x2="363.8" y2="551.3" stroke="#111" stroke-width="1.5"/>
<line x1="290.6" y1="551.3" x2="290.6" y2="555.3" stroke="#111" stroke-width="1.3"/>
<line x1="310.6" y1="551.3" x2="310.6" y2="555.3" stroke="#111" stroke-width="1.3"/>
<line x1="331.1" y1="551.3" x2="331.1" y2="555.3" stroke="#111" stroke-width="1.3"/>
<line x1="351.4" y1="551.3" x2="351.4" y2="555.3" stroke="#111" stroke-width="1.3"/>
<path d="M283.8,551.3 V503.8 H297.5 V551.3" fill="none" stroke="#111" stroke-width="1.25"/>
<path d="M303.8,551.3 V522.5 H317.5 V551.3" fill="none" stroke="#111" stroke-width="1.25"/>
<path d="M324.3,551.3 V511.8 H338 V551.3" fill="none" stroke="#2a1fd6" stroke-width="1.25"/>
<path d="M344.5,551.3 V499.3 H358.3 V551.3" fill="none" stroke="#2a1fd6" stroke-width="1.25"/>
<text transform="translate(257.5 489.94) rotate(-90) scale(1.15 1)" font-size="8.5" fill="#2a2a2a" text-anchor="middle" letter-spacing="0.79" stroke="#2a2a2a" stroke-width="0.2">β-cell mass (mg)</text>
<circle cx="290.5" cy="432.5" r="1.9" fill="#8a8a8a"/>
<circle cx="287.5" cy="480" r="1.9" fill="#8a8a8a"/>
<circle cx="293" cy="477" r="1.9" fill="#8a8a8a"/>
<circle cx="290.5" cy="491.8" r="1.9" fill="#8a8a8a"/>
<circle cx="287.6" cy="508" r="1.9" fill="#8a8a8a"/>
<circle cx="293.6" cy="506.6" r="1.9" fill="#8a8a8a"/>
<circle cx="290.4" cy="513.6" r="1.9" fill="#8a8a8a"/>
<circle cx="287.6" cy="523.6" r="1.9" fill="#8a8a8a"/>
<circle cx="293.4" cy="525.6" r="1.9" fill="#8a8a8a"/>
<circle cx="290.4" cy="530.6" r="1.9" fill="#8a8a8a"/>
<circle cx="287.4" cy="535.4" r="1.9" fill="#8a8a8a"/>
<circle cx="293.6" cy="534.6" r="1.9" fill="#8a8a8a"/>
<circle cx="290.6" cy="519" r="1.9" fill="#8a8a8a"/>
<circle cx="310" cy="495.8" r="1.9" fill="#8a8a8a"/>
<circle cx="313.6" cy="506" r="1.9" fill="#8a8a8a"/>
<circle cx="306.4" cy="509.6" r="1.9" fill="#8a8a8a"/>
<circle cx="310.6" cy="513.6" r="1.9" fill="#8a8a8a"/>
<circle cx="314.4" cy="517.4" r="1.9" fill="#8a8a8a"/>
<circle cx="307.6" cy="524.6" r="1.9" fill="#8a8a8a"/>
<circle cx="312.6" cy="526.4" r="1.9" fill="#8a8a8a"/>
<circle cx="309.6" cy="530.6" r="1.9" fill="#8a8a8a"/>
<circle cx="306.6" cy="533.6" r="1.9" fill="#8a8a8a"/>
<circle cx="313.6" cy="534" r="1.9" fill="#8a8a8a"/>
<circle cx="310.6" cy="537.6" r="1.9" fill="#8a8a8a"/>
<circle cx="310.6" cy="542.4" r="1.9" fill="#8a8a8a"/>
<circle cx="328" cy="464.5" r="1.9" fill="#5a4fd6"/>
<circle cx="333.3" cy="464.5" r="1.9" fill="#5a4fd6"/>
<circle cx="328" cy="495.5" r="1.9" fill="#5a4fd6"/>
<circle cx="333.2" cy="497" r="1.9" fill="#5a4fd6"/>
<circle cx="331" cy="504.6" r="1.9" fill="#5a4fd6"/>
<circle cx="328.4" cy="510.6" r="1.9" fill="#5a4fd6"/>
<circle cx="333.6" cy="512" r="1.9" fill="#5a4fd6"/>
<circle cx="330.6" cy="520.4" r="1.9" fill="#5a4fd6"/>
<circle cx="327.6" cy="523.6" r="1.9" fill="#5a4fd6"/>
<circle cx="333.6" cy="524.6" r="1.9" fill="#5a4fd6"/>
<circle cx="330.6" cy="529.4" r="1.9" fill="#5a4fd6"/>
<circle cx="328" cy="533.6" r="1.9" fill="#5a4fd6"/>
<circle cx="333.4" cy="534.6" r="1.9" fill="#5a4fd6"/>
<circle cx="330.8" cy="536.6" r="1.9" fill="#5a4fd6"/>
<circle cx="328.6" cy="537.6" r="1.9" fill="#5a4fd6"/>
<circle cx="347" cy="445" r="1.9" fill="#5a4fd6"/>
<circle cx="351.3" cy="446.3" r="1.9" fill="#5a4fd6"/>
<circle cx="355" cy="441.3" r="1.9" fill="#5a4fd6"/>
<circle cx="351.3" cy="468.8" r="1.9" fill="#5a4fd6"/>
<circle cx="351.3" cy="480" r="1.9" fill="#5a4fd6"/>
<circle cx="348" cy="518.6" r="1.9" fill="#5a4fd6"/>
<circle cx="354.4" cy="520.4" r="1.9" fill="#5a4fd6"/>
<circle cx="351.4" cy="527.6" r="1.9" fill="#5a4fd6"/>
<circle cx="348.6" cy="531.6" r="1.9" fill="#5a4fd6"/>
<circle cx="354.6" cy="527.8" r="1.9" fill="#5a4fd6"/>
<circle cx="351.4" cy="539.6" r="1.9" fill="#5a4fd6"/>
<circle cx="351.4" cy="550.6" r="1.9" fill="#5a4fd6"/>
<line x1="290.6" y1="495.8" x2="290.6" y2="510.5" stroke="#111" stroke-width="1.3"/>
<line x1="287.1" y1="495.8" x2="294.1" y2="495.8" stroke="#111" stroke-width="1.3"/>
<line x1="287.1" y1="510.5" x2="294.1" y2="510.5" stroke="#111" stroke-width="1.3"/>
<line x1="310.6" y1="518.8" x2="310.6" y2="526.3" stroke="#111" stroke-width="1.3"/>
<line x1="307.1" y1="518.8" x2="314.1" y2="518.8" stroke="#111" stroke-width="1.3"/>
<line x1="307.1" y1="526.3" x2="314.1" y2="526.3" stroke="#111" stroke-width="1.3"/>
<line x1="331.1" y1="505.5" x2="331.1" y2="518" stroke="#111" stroke-width="1.3"/>
<line x1="327.6" y1="505.5" x2="334.6" y2="505.5" stroke="#111" stroke-width="1.3"/>
<line x1="327.6" y1="518" x2="334.6" y2="518" stroke="#111" stroke-width="1.3"/>
<line x1="351.4" y1="488.8" x2="351.4" y2="510.5" stroke="#111" stroke-width="1.3"/>
<line x1="347.9" y1="488.8" x2="354.9" y2="488.8" stroke="#111" stroke-width="1.3"/>
<line x1="347.9" y1="510.5" x2="354.9" y2="510.5" stroke="#111" stroke-width="1.3"/>
<text x="300.6" y="422.33" font-size="12.6" fill="#000" text-anchor="middle" font-weight="bold">*</text>
<line x1="290" y1="421.8" x2="311.8" y2="421.8" stroke="#969696" stroke-width="1.1"/>
<text transform="translate(292.4 563.5) rotate(-45)" font-size="8.2" fill="#2a2a2a" text-anchor="end" letter-spacing="1.05" stroke="#2a2a2a" stroke-width="0.2">V</text>
<text transform="translate(312.4 563.5) rotate(-45)" font-size="8.2" fill="#2a2a2a" text-anchor="end" letter-spacing="1.05" stroke="#2a2a2a" stroke-width="0.2">DHT</text>
<text transform="translate(332.9 563.5) rotate(-45)" font-size="8.2" fill="#2a2a2a" text-anchor="end" letter-spacing="1.05" stroke="#2a2a2a" stroke-width="0.2">V</text>
<text transform="translate(353.2 563.5) rotate(-45)" font-size="8.2" fill="#2a2a2a" text-anchor="end" letter-spacing="1.05" stroke="#2a2a2a" stroke-width="0.2">DHT</text>
<line x1="280.8" y1="580.6" x2="312.5" y2="580.6" stroke="#111" stroke-width="1.5"/>
<line x1="323.8" y1="580.6" x2="355.8" y2="580.6" stroke="#111" stroke-width="1.5"/>
<text x="296.4" y="594.8" font-size="8.2" fill="#2a2a2a" text-anchor="middle" letter-spacing="1.05" stroke="#2a2a2a" stroke-width="0.2">Rip-Cre</text>
<text x="318.4" y="594.8" font-size="8.2" fill="#2a2a2a" letter-spacing="1.05" stroke="#2a2a2a" stroke-width="0.2">βARKO<tspan font-size="6.23" dx="1" dy="-6.07">RIP</tspan></text>
<rect x="378.8" y="411.8" width="192.7" height="171.5" fill="#020402"/>
<clipPath id="imgclip"><rect x="378.8" y="411.8" width="192.7" height="171.5"/></clipPath>
<g clip-path="url(#imgclip)">
<path d="M416.99,416 C420.37,415.87 422.43,416.3 425.17,417.68 C427.91,419.06 430.7,421.26 433.46,424.29 C436.22,427.31 439.28,431.7 441.75,435.82 C444.21,439.95 446.06,444.65 448.24,449.04 C450.43,453.42 453.06,457.9 454.85,462.14 C456.64,466.38 458.43,470.73 458.99,474.46 C459.55,478.19 460,482.08 458.21,484.54 C456.42,487.01 452.09,488.57 448.24,489.25 C444.4,489.92 439.53,489.51 435.14,488.57 C430.75,487.64 425.79,485.83 421.92,483.65 C418.06,481.46 414.98,479.05 411.95,475.47 C408.93,471.89 405.96,466.55 403.78,462.14 C401.59,457.74 400.72,452.77 398.85,449.04 C396.98,445.3 393.92,442.6 392.58,439.74 C391.23,436.89 390.32,434.42 390.79,431.9 C391.25,429.38 393.03,426.86 395.38,424.62 C397.73,422.38 401.3,419.9 404.9,418.46 C408.5,417.02 413.62,416.13 416.99,416Z" fill="#0c3a0c" opacity="0.55" filter="url(#glow)"/>
<path d="M496.67,422.17 C498.05,420.1 502.96,419.43 506.52,419.71 C510.09,419.99 514.2,422.06 518.06,423.85 C521.92,425.64 526.12,427.97 529.71,430.46 C533.29,432.94 536.82,435.72 539.56,438.75 C542.31,441.77 544.79,445.02 546.17,448.6 C547.55,452.19 548.13,456.95 547.85,460.25 C547.57,463.55 546,465.96 544.49,468.43 C542.98,470.89 540.7,472.83 538.78,475.03 C536.86,477.24 535.31,479.61 532.96,481.64 C530.6,483.68 527.41,486.2 524.67,487.24 C521.92,488.29 518.55,488.57 516.49,487.91 C514.44,487.26 513.32,485.47 512.35,483.32 C511.38,481.17 511.49,477.78 510.67,475.03 C509.85,472.29 508.24,469.88 507.42,466.86 C506.6,463.83 505.81,459.93 505.74,456.89 C505.67,453.85 507.53,451.35 506.97,448.6 C506.41,445.86 503.84,443.17 502.38,440.43 C500.92,437.68 499.19,435.18 498.24,432.14 C497.28,429.09 495.29,424.24 496.67,422.17Z" fill="#3a0c08" opacity="0.55" filter="url(#glow)"/>
<path d="M445.68,514.56 C447.77,515.68 450.68,517.6 451.5,520.38 C452.32,523.16 451.58,527.49 450.61,531.25 C449.64,535 447.9,539.01 445.68,542.89 C443.46,546.78 440.62,550.92 437.28,554.54 C433.94,558.16 429.51,562.33 425.63,564.62 C421.75,566.92 417.45,567.91 413.98,568.32 C410.51,568.73 407.17,568.26 404.8,567.09 C402.43,565.91 400.47,563.89 399.76,561.26 C399.05,558.63 399.29,554.92 400.54,551.29 C401.79,547.67 404.48,543.44 407.26,539.53 C410.04,535.63 413.61,531.49 417.23,527.89 C420.85,524.28 425.37,520.29 428.99,517.92 C432.61,515.55 436.18,514.22 438.96,513.66 C441.74,513.1 443.59,513.44 445.68,514.56Z" fill="#0c3a0c" opacity="0.55" filter="url(#glow)"/>
<path d="M483.77,541.66 C483.59,538.3 484.52,534.66 485.9,531.58 C487.28,528.5 489.54,525.7 492.06,523.18 C494.58,520.66 497.85,518.51 501.02,516.46 C504.19,514.4 507.74,512.4 511.1,510.86 C514.46,509.31 517.82,507.81 521.18,507.16 C524.54,506.51 528.09,506.51 531.26,506.94 C534.43,507.36 537.42,508.34 540.22,509.74 C543.02,511.14 545.9,513 548.06,515.34 C550.23,517.67 552.24,520.66 553.21,523.74 C554.18,526.82 554.37,530.55 553.88,533.82 C553.4,537.08 552.02,540.44 550.3,543.34 C548.58,546.23 546.19,548.84 543.58,551.18 C540.97,553.51 537.79,555.47 534.62,557.34 C531.45,559.2 528.09,561.07 524.54,562.38 C520.99,563.68 517.07,564.9 513.34,565.18 C509.61,565.46 505.5,564.99 502.14,564.06 C498.78,563.12 495.7,561.63 493.18,559.58 C490.66,557.52 488.59,554.72 487.02,551.74 C485.45,548.75 483.96,545.02 483.77,541.66Z" fill="#0e3a0c" opacity="0.55" filter="url(#glow)"/>
<g filter="url(#mot1)">
<path d="M417.8,419.8 C420.82,419.68 422.65,420.07 425.1,421.3 C427.55,422.53 430.03,424.5 432.5,427.2 C434.97,429.9 437.7,433.82 439.9,437.5 C442.1,441.18 443.75,445.38 445.7,449.3 C447.65,453.22 450,457.22 451.6,461 C453.2,464.78 454.8,468.67 455.3,472 C455.8,475.33 456.2,478.8 454.6,481 C453,483.2 449.13,484.6 445.7,485.2 C442.27,485.8 437.92,485.43 434,484.6 C430.08,483.77 425.65,482.15 422.2,480.2 C418.75,478.25 416,476.1 413.3,472.9 C410.6,469.7 407.95,464.93 406,461 C404.05,457.07 403.27,452.63 401.6,449.3 C399.93,445.97 397.2,443.55 396,441 C394.8,438.45 393.98,436.25 394.4,434 C394.82,431.75 396.4,429.5 398.5,427.5 C400.6,425.5 403.78,423.28 407,422 C410.22,420.72 414.78,419.92 417.8,419.8Z" fill="#7c5a22"/>
<path d="M417.8,419.8 C420.82,419.68 422.65,420.07 425.1,421.3 C427.55,422.53 430.03,424.5 432.5,427.2 C434.97,429.9 437.7,433.82 439.9,437.5 C442.1,441.18 443.75,445.38 445.7,449.3 C447.65,453.22 450,457.22 451.6,461 C453.2,464.78 454.8,468.67 455.3,472 C455.8,475.33 456.2,478.8 454.6,481 C453,483.2 449.13,484.6 445.7,485.2 C442.27,485.8 437.92,485.43 434,484.6 C430.08,483.77 425.65,482.15 422.2,480.2 C418.75,478.25 416,476.1 413.3,472.9 C410.6,469.7 407.95,464.93 406,461 C404.05,457.07 403.27,452.63 401.6,449.3 C399.93,445.97 397.2,443.55 396,441 C394.8,438.45 393.98,436.25 394.4,434 C394.82,431.75 396.4,429.5 398.5,427.5 C400.6,425.5 403.78,423.28 407,422 C410.22,420.72 414.78,419.92 417.8,419.8Z" fill="none" stroke="#a8481f" stroke-width="1.8" stroke-dasharray="9 8 4 10 12 9"/>
<path d="M418.27,422.02 C421.08,421.91 422.78,422.27 425.06,423.41 C427.34,424.56 429.65,426.39 431.94,428.9 C434.23,431.41 436.78,435.05 438.82,438.48 C440.87,441.9 442.4,445.81 444.22,449.45 C446.03,453.1 448.22,456.82 449.7,460.33 C451.19,463.85 452.68,467.46 453.14,470.56 C453.61,473.66 453.98,476.89 452.49,478.93 C451.01,480.98 447.41,482.28 444.22,482.84 C441.02,483.4 436.98,483.06 433.34,482.28 C429.69,481.51 425.57,480 422.36,478.19 C419.15,476.38 416.6,474.38 414.08,471.4 C411.57,468.43 409.11,463.99 407.3,460.33 C405.48,456.68 404.75,452.55 403.2,449.45 C401.65,446.35 399.11,444.11 398,441.73 C396.88,439.36 396.12,437.32 396.51,435.22 C396.9,433.13 398.37,431.04 400.32,429.18 C402.27,427.32 405.23,425.26 408.23,424.06 C411.22,422.87 415.46,422.13 418.27,422.02Z" fill="#27a526"/>
</g>
<g filter="url(#mot2)">
<path d="M499.2,425.7 C500.43,423.85 504.82,423.25 508,423.5 C511.18,423.75 514.85,425.6 518.3,427.2 C521.75,428.8 525.5,430.88 528.7,433.1 C531.9,435.32 535.05,437.8 537.5,440.5 C539.95,443.2 542.17,446.1 543.4,449.3 C544.63,452.5 545.15,456.75 544.9,459.7 C544.65,462.65 543.25,464.8 541.9,467 C540.55,469.2 538.52,470.93 536.8,472.9 C535.08,474.87 533.7,476.98 531.6,478.8 C529.5,480.62 526.65,482.87 524.2,483.8 C521.75,484.73 518.73,484.98 516.9,484.4 C515.07,483.82 514.07,482.22 513.2,480.3 C512.33,478.38 512.43,475.35 511.7,472.9 C510.97,470.45 509.53,468.3 508.8,465.6 C508.07,462.9 507.37,459.42 507.3,456.7 C507.23,453.98 508.9,451.75 508.4,449.3 C507.9,446.85 505.6,444.45 504.3,442 C503,439.55 501.45,437.32 500.6,434.6 C499.75,431.88 497.97,427.55 499.2,425.7Z" fill="#e03018"/>
<path d="M506.02,433.78 C507.01,432.3 510.51,431.82 513.06,432.02 C515.61,432.22 518.54,433.7 521.3,434.98 C524.06,436.26 527.06,437.93 529.62,439.7 C532.18,441.48 534.7,443.46 536.66,445.62 C538.62,447.78 540.39,450.1 541.38,452.66 C542.37,455.22 542.78,458.62 542.58,460.98 C542.38,463.34 541.26,465.06 540.18,466.82 C539.1,468.58 537.47,469.97 536.1,471.54 C534.73,473.12 533.62,474.81 531.94,476.26 C530.26,477.72 527.98,479.52 526.02,480.26 C524.06,481.01 521.65,481.21 520.18,480.74 C518.71,480.28 517.91,479 517.22,477.46 C516.53,475.93 516.61,473.5 516.02,471.54 C515.43,469.58 514.29,467.86 513.7,465.7 C513.11,463.54 512.55,460.76 512.5,458.58 C512.45,456.41 513.78,454.62 513.38,452.66 C512.98,450.7 511.14,448.78 510.1,446.82 C509.06,444.86 507.82,443.08 507.14,440.9 C506.46,438.73 505.03,435.26 506.02,433.78Z" fill="#6aa828"/>
<path d="M510.44,439.47 C511.18,438.36 513.81,438 515.72,438.15 C517.63,438.3 519.83,439.41 521.9,440.37 C523.97,441.33 526.22,442.58 528.14,443.91 C530.06,445.24 531.95,446.73 533.42,448.35 C534.89,449.97 536.22,451.71 536.96,453.63 C537.7,455.55 538.01,458.1 537.86,459.87 C537.71,461.64 536.87,462.93 536.06,464.25 C535.25,465.57 534.03,466.61 533,467.79 C531.97,468.97 531.14,470.24 529.88,471.33 C528.62,472.42 526.91,473.77 525.44,474.33 C523.97,474.89 522.16,475.04 521.06,474.69 C519.96,474.34 519.36,473.38 518.84,472.23 C518.32,471.08 518.38,469.26 517.94,467.79 C517.5,466.32 516.64,465.03 516.2,463.41 C515.76,461.79 515.34,459.7 515.3,458.07 C515.26,456.44 516.26,455.1 515.96,453.63 C515.66,452.16 514.28,450.72 513.5,449.25 C512.72,447.78 511.79,446.44 511.28,444.81 C510.77,443.18 509.7,440.58 510.44,439.47Z" fill="#2ba626"/>
<circle cx="523" cy="441" r="3.2" fill="#d8401c"/><circle cx="533" cy="458" r="3" fill="#d8501c"/><circle cx="519" cy="463" r="2.6" fill="#d2401c"/><circle cx="528" cy="472" r="2.8" fill="#c8601c"/><circle cx="516" cy="450" r="2.2" fill="#d8c040"/>
</g>
<g filter="url(#mot3)">
<path d="M443.6,517.4 C445.47,518.4 448.07,520.12 448.8,522.6 C449.53,525.08 448.87,528.95 448,532.3 C447.13,535.65 445.58,539.23 443.6,542.7 C441.62,546.17 439.08,549.87 436.1,553.1 C433.12,556.33 429.17,560.05 425.7,562.1 C422.23,564.15 418.4,565.03 415.3,565.4 C412.2,565.77 409.22,565.35 407.1,564.3 C404.98,563.25 403.23,561.45 402.6,559.1 C401.97,556.75 402.18,553.43 403.3,550.2 C404.42,546.97 406.82,543.18 409.3,539.7 C411.78,536.22 414.97,532.52 418.2,529.3 C421.43,526.08 425.47,522.52 428.7,520.4 C431.93,518.28 435.12,517.1 437.6,516.6 C440.08,516.1 441.73,516.4 443.6,517.4Z" fill="#86621f"/>
<path d="M443.6,517.4 C445.47,518.4 448.07,520.12 448.8,522.6 C449.53,525.08 448.87,528.95 448,532.3 C447.13,535.65 445.58,539.23 443.6,542.7 C441.62,546.17 439.08,549.87 436.1,553.1 C433.12,556.33 429.17,560.05 425.7,562.1 C422.23,564.15 418.4,565.03 415.3,565.4 C412.2,565.77 409.22,565.35 407.1,564.3 C404.98,563.25 403.23,561.45 402.6,559.1 C401.97,556.75 402.18,553.43 403.3,550.2 C404.42,546.97 406.82,543.18 409.3,539.7 C411.78,536.22 414.97,532.52 418.2,529.3 C421.43,526.08 425.47,522.52 428.7,520.4 C431.93,518.28 435.12,517.1 437.6,516.6 C440.08,516.1 441.73,516.4 443.6,517.4Z" fill="none" stroke="#cc4a1c" stroke-width="2" stroke-dasharray="30 40 60 200"/>
<path d="M442.44,519.23 C444.14,520.14 446.51,521.7 447.17,523.96 C447.84,526.22 447.23,529.74 446.45,532.79 C445.66,535.84 444.25,539.1 442.44,542.25 C440.64,545.41 438.33,548.78 435.62,551.72 C432.9,554.66 429.31,558.04 426.15,559.91 C423,561.77 419.51,562.58 416.69,562.91 C413.87,563.25 411.15,562.87 409.23,561.91 C407.3,560.96 405.71,559.32 405.13,557.18 C404.55,555.04 404.75,552.02 405.77,549.08 C406.78,546.14 408.97,542.69 411.23,539.52 C413.49,536.35 416.38,532.99 419.33,530.06 C422.27,527.13 425.94,523.89 428.88,521.96 C431.82,520.04 434.72,518.96 436.98,518.5 C439.24,518.05 440.74,518.32 442.44,519.23Z" fill="#27a526"/>
</g>
<g filter="url(#mot4)">
<path d="M487.6,541 C487.43,538 488.27,534.75 489.5,532 C490.73,529.25 492.75,526.75 495,524.5 C497.25,522.25 500.17,520.33 503,518.5 C505.83,516.67 509,514.88 512,513.5 C515,512.12 518,510.78 521,510.2 C524,509.62 527.17,509.62 530,510 C532.83,510.38 535.5,511.25 538,512.5 C540.5,513.75 543.07,515.42 545,517.5 C546.93,519.58 548.73,522.25 549.6,525 C550.47,527.75 550.63,531.08 550.2,534 C549.77,536.92 548.53,539.92 547,542.5 C545.47,545.08 543.33,547.42 541,549.5 C538.67,551.58 535.83,553.33 533,555 C530.17,556.67 527.17,558.33 524,559.5 C520.83,560.67 517.33,561.75 514,562 C510.67,562.25 507,561.83 504,561 C501,560.17 498.25,558.83 496,557 C493.75,555.17 491.9,552.67 490.5,550 C489.1,547.33 487.77,544 487.6,541Z" fill="#d83a1a"/>
<path d="M490.95,539.76 C490.8,537 491.56,534.01 492.7,531.48 C493.83,528.95 495.69,526.65 497.76,524.58 C499.83,522.51 502.51,520.75 505.12,519.06 C507.73,517.38 510.64,515.74 513.4,514.46 C516.16,513.19 518.92,511.96 521.68,511.43 C524.44,510.89 527.35,510.89 529.96,511.24 C532.57,511.6 535.02,512.39 537.32,513.54 C539.62,514.69 541.98,516.23 543.76,518.14 C545.54,520.06 547.19,522.51 547.99,525.04 C548.79,527.57 548.94,530.64 548.54,533.32 C548.14,536.01 547.01,538.77 545.6,541.14 C544.19,543.52 542.23,545.67 540.08,547.58 C537.93,549.5 535.33,551.11 532.72,552.64 C530.11,554.18 527.35,555.71 524.44,556.78 C521.53,557.86 518.31,558.85 515.24,559.08 C512.17,559.31 508.8,558.93 506.04,558.16 C503.28,557.4 500.75,556.17 498.68,554.48 C496.61,552.8 494.91,550.5 493.62,548.04 C492.33,545.59 491.1,542.52 490.95,539.76Z" fill="#27a526"/>
<circle cx="543" cy="524" r="2.4" fill="#d2401c"/><circle cx="534" cy="517" r="1.8" fill="#c8501c"/><circle cx="498" cy="540" r="2" fill="#d2501c"/><circle cx="528" cy="552" r="1.8" fill="#c8501c"/>
</g>
</g>
<g filter="url(#soft)">
<text x="379.6" y="498" font-size="10.9" fill="#2c9c2b">RIP-Cre V</text>
<text x="570.2" y="498" font-size="10.9" fill="#2c9c2b" text-anchor="end">RIP-Cre DHT</text>
<text x="379.6" y="578.6" font-size="10.9" fill="#2c9c2b">βARKO<tspan font-size="7.7" dy="-3.4">RIP</tspan><tspan dy="3.4"> V</tspan></text>
<text x="570.2" y="578.6" font-size="10.9" fill="#2c9c2b" text-anchor="end">βARKO<tspan font-size="7.7" dy="-3.4">RIP</tspan><tspan dy="3.4"> DHT</tspan></text>
</g>
<line x1="452.2" y1="493.8" x2="464" y2="493.8" stroke="#fff" stroke-width="1.9"/>
<line x1="474.8" y1="493.8" x2="486.4" y2="493.8" stroke="#fff" stroke-width="1.9"/>
<line x1="452.2" y1="577.4" x2="464" y2="577.4" stroke="#fff" stroke-width="1.9"/>
<line x1="474.8" y1="577.4" x2="486.4" y2="577.4" stroke="#fff" stroke-width="1.9"/>
<text x="576.6" y="414.2" font-size="13.2" fill="#000" font-weight="bold" stroke="#000" stroke-width="0.55" stroke-linejoin="round">H</text>
<line x1="611.4" y1="426.55" x2="611.4" y2="552.15" stroke="#111" stroke-width="1.5"/>
<line x1="607.9" y1="551.4" x2="611.4" y2="551.4" stroke="#111" stroke-width="1.5"/>
<text transform="translate(606.4 553.88) scale(1.15 1)" font-size="6.9" fill="#2a2a2a" text-anchor="end" letter-spacing="0.7" stroke="#2a2a2a" stroke-width="0.2">0</text>
<line x1="607.9" y1="520.38" x2="611.4" y2="520.38" stroke="#111" stroke-width="1.5"/>
<text transform="translate(606.4 522.86) scale(1.15 1)" font-size="6.9" fill="#2a2a2a" text-anchor="end" letter-spacing="0.7" stroke="#2a2a2a" stroke-width="0.2">20</text>
<line x1="607.9" y1="489.36" x2="611.4" y2="489.36" stroke="#111" stroke-width="1.5"/>
<text transform="translate(606.4 491.84) scale(1.15 1)" font-size="6.9" fill="#2a2a2a" text-anchor="end" letter-spacing="0.7" stroke="#2a2a2a" stroke-width="0.2">40</text>
<line x1="607.9" y1="458.34" x2="611.4" y2="458.34" stroke="#111" stroke-width="1.5"/>
<text transform="translate(606.4 460.82) scale(1.15 1)" font-size="6.9" fill="#2a2a2a" text-anchor="end" letter-spacing="0.7" stroke="#2a2a2a" stroke-width="0.2">60</text>
<line x1="607.9" y1="427.32" x2="611.4" y2="427.32" stroke="#111" stroke-width="1.5"/>
<text transform="translate(606.4 429.8) scale(1.15 1)" font-size="6.9" fill="#2a2a2a" text-anchor="end" letter-spacing="0.7" stroke="#2a2a2a" stroke-width="0.2">80</text>
<line x1="610.65" y1="551.4" x2="693" y2="551.4" stroke="#111" stroke-width="1.5"/>
<line x1="621.8" y1="551.4" x2="621.8" y2="555.4" stroke="#111" stroke-width="1.3"/>
<line x1="642.2" y1="551.4" x2="642.2" y2="555.4" stroke="#111" stroke-width="1.3"/>
<line x1="662.8" y1="551.4" x2="662.8" y2="555.4" stroke="#111" stroke-width="1.3"/>
<line x1="683.5" y1="551.4" x2="683.5" y2="555.4" stroke="#111" stroke-width="1.3"/>
<path d="M615,551.4 V513 H628.6 V551.4" fill="none" stroke="#111" stroke-width="1.25"/>
<path d="M635.4,551.4 V528 H649 V551.4" fill="none" stroke="#111" stroke-width="1.25"/>
<path d="M656,551.4 V519.6 H669.6 V551.4" fill="none" stroke="#2a1fd6" stroke-width="1.25"/>
<path d="M676.6,551.4 V500.4 H690.4 V551.4" fill="none" stroke="#2a1fd6" stroke-width="1.25"/>
<text transform="translate(589.9 489.57) rotate(-90) scale(1.15 1)" font-size="8.5" fill="#2a2a2a" text-anchor="middle" letter-spacing="0.74" stroke="#2a2a2a" stroke-width="0.2">Pancreatic Insulin (ng/mg)</text>
<circle cx="621.6" cy="487.4" r="1.9" fill="#8a8a8a"/>
<circle cx="621.6" cy="496.6" r="1.9" fill="#8a8a8a"/>
<circle cx="618.6" cy="499" r="1.9" fill="#8a8a8a"/>
<circle cx="624.4" cy="505" r="1.9" fill="#8a8a8a"/>
<circle cx="618" cy="526" r="1.9" fill="#8a8a8a"/>
<circle cx="626" cy="522.4" r="1.9" fill="#8a8a8a"/>
<circle cx="621" cy="527.4" r="1.9" fill="#8a8a8a"/>
<circle cx="621.6" cy="534" r="1.9" fill="#8a8a8a"/>
<circle cx="642" cy="508" r="1.9" fill="#8a8a8a"/>
<circle cx="642" cy="515.4" r="1.9" fill="#8a8a8a"/>
<circle cx="646" cy="522.4" r="1.9" fill="#8a8a8a"/>
<circle cx="640" cy="537" r="1.9" fill="#8a8a8a"/>
<circle cx="644" cy="537" r="1.9" fill="#8a8a8a"/>
<circle cx="641" cy="540" r="1.9" fill="#8a8a8a"/>
<circle cx="645.4" cy="525" r="1.9" fill="#8a8a8a"/>
<circle cx="638.6" cy="527.4" r="1.9" fill="#8a8a8a"/>
<circle cx="642" cy="530" r="1.9" fill="#8a8a8a"/>
<circle cx="660" cy="507.6" r="1.9" fill="#5a4fd6"/>
<circle cx="665.4" cy="507.6" r="1.9" fill="#5a4fd6"/>
<circle cx="662.6" cy="457" r="1.9" fill="#5a4fd6"/>
<circle cx="662.6" cy="481" r="1.9" fill="#5a4fd6"/>
<circle cx="657.6" cy="533.4" r="1.9" fill="#5a4fd6"/>
<circle cx="660.4" cy="536.6" r="1.9" fill="#5a4fd6"/>
<circle cx="663" cy="538.6" r="1.9" fill="#5a4fd6"/>
<circle cx="665.6" cy="536.4" r="1.9" fill="#5a4fd6"/>
<circle cx="667.6" cy="533.4" r="1.9" fill="#5a4fd6"/>
<circle cx="659" cy="530.6" r="1.9" fill="#5a4fd6"/>
<circle cx="666.6" cy="530.4" r="1.9" fill="#5a4fd6"/>
<circle cx="662.8" cy="532" r="1.9" fill="#5a4fd6"/>
<circle cx="683.4" cy="435" r="1.9" fill="#5a4fd6"/>
<circle cx="683.4" cy="443" r="1.9" fill="#5a4fd6"/>
<circle cx="683.4" cy="460" r="1.9" fill="#5a4fd6"/>
<circle cx="683.4" cy="493.4" r="1.9" fill="#5a4fd6"/>
<circle cx="679.4" cy="530" r="1.9" fill="#5a4fd6"/>
<circle cx="681" cy="532" r="1.9" fill="#5a4fd6"/>
<circle cx="687" cy="531" r="1.9" fill="#5a4fd6"/>
<circle cx="683.4" cy="537.4" r="1.9" fill="#5a4fd6"/>
<circle cx="680" cy="529" r="1.9" fill="#5a4fd6"/>
<line x1="621.8" y1="507.6" x2="621.8" y2="518.4" stroke="#111" stroke-width="1.3"/>
<line x1="618.3" y1="507.6" x2="625.3" y2="507.6" stroke="#111" stroke-width="1.3"/>
<line x1="618.3" y1="518.4" x2="625.3" y2="518.4" stroke="#111" stroke-width="1.3"/>
<line x1="642.2" y1="524.4" x2="642.2" y2="532" stroke="#111" stroke-width="1.3"/>
<line x1="638.7" y1="524.4" x2="645.7" y2="524.4" stroke="#111" stroke-width="1.3"/>
<line x1="638.7" y1="532" x2="645.7" y2="532" stroke="#111" stroke-width="1.3"/>
<line x1="662.8" y1="513" x2="662.8" y2="527" stroke="#111" stroke-width="1.3"/>
<line x1="659.3" y1="513" x2="666.3" y2="513" stroke="#111" stroke-width="1.3"/>
<line x1="659.3" y1="527" x2="666.3" y2="527" stroke="#111" stroke-width="1.3"/>
<line x1="683.5" y1="487.6" x2="683.5" y2="513" stroke="#111" stroke-width="1.3"/>
<line x1="680" y1="487.6" x2="687" y2="487.6" stroke="#111" stroke-width="1.3"/>
<line x1="680" y1="513" x2="687" y2="513" stroke="#111" stroke-width="1.3"/>
<text x="632.4" y="475.93" font-size="12.6" fill="#000" text-anchor="middle" font-weight="bold">*</text>
<polyline points="621.4,477 621.4,474.6 643.4,474.6 643.4,477" fill="none" stroke="#111" stroke-width="1.1"/>
<text transform="translate(623.6 563.6) rotate(-45)" font-size="8.2" fill="#2a2a2a" text-anchor="end" letter-spacing="1.05" stroke="#2a2a2a" stroke-width="0.2">V</text>
<text transform="translate(644 563.6) rotate(-45)" font-size="8.2" fill="#2a2a2a" text-anchor="end" letter-spacing="1.05" stroke="#2a2a2a" stroke-width="0.2">DHT</text>
<text transform="translate(664.6 563.6) rotate(-45)" font-size="8.2" fill="#2a2a2a" text-anchor="end" letter-spacing="1.05" stroke="#2a2a2a" stroke-width="0.2">V</text>
<text transform="translate(685.3 563.6) rotate(-45)" font-size="8.2" fill="#2a2a2a" text-anchor="end" letter-spacing="1.05" stroke="#2a2a2a" stroke-width="0.2">DHT</text>
<line x1="612.4" y1="581.6" x2="644" y2="581.6" stroke="#111" stroke-width="1.5"/>
<line x1="655.6" y1="581.6" x2="687.4" y2="581.6" stroke="#111" stroke-width="1.5"/>
<text x="627.4" y="596.4" font-size="8.2" fill="#2a2a2a" text-anchor="middle" letter-spacing="1.05" stroke="#2a2a2a" stroke-width="0.2">Rip-Cre</text>
<text x="649.8" y="596.4" font-size="8.2" fill="#2a2a2a" letter-spacing="1.05" stroke="#2a2a2a" stroke-width="0.2">βARKO<tspan font-size="6.23" dx="1" dy="-6.07">RIP</tspan></text>
</svg>
</body></html>
